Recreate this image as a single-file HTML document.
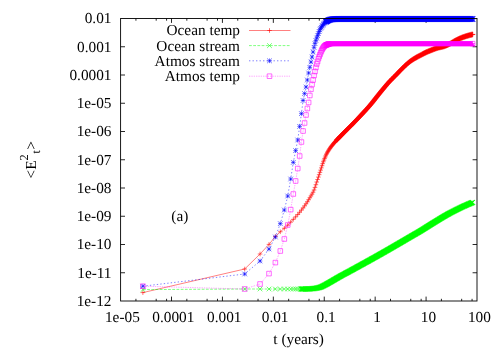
<!DOCTYPE html>
<html><head><meta charset="utf-8"><title>plot</title>
<style>html,body{margin:0;padding:0;background:#fff;width:500px;height:350px;overflow:hidden}svg{will-change:transform;transform:translateZ(0)}text{text-rendering:geometricPrecision}</style></head>
<body>
<svg width="500" height="350" viewBox="0 0 500 350" style="position:absolute;left:0;top:0">
<path d="M120.6 272.75h4.4M477.0 272.75h-4.4M120.6 244.5h4.4M477.0 244.5h-4.4M120.6 216.25h4.4M477.0 216.25h-4.4M120.6 188h4.4M477.0 188h-4.4M120.6 159.75h4.4M477.0 159.75h-4.4M120.6 131.5h4.4M477.0 131.5h-4.4M120.6 103.25h4.4M477.0 103.25h-4.4M120.6 75h4.4M477.0 75h-4.4M120.6 46.75h4.4M477.0 46.75h-4.4M135.93 301.0v-2.2M135.93 18.5v2.2M156.19 301.0v-2.2M156.19 18.5v2.2M166.58 301.0v-2.2M166.58 18.5v2.2M171.51 301.0v-4.4M171.51 18.5v4.4M186.84 301.0v-2.2M186.84 18.5v2.2M207.1 301.0v-2.2M207.1 18.5v2.2M217.49 301.0v-2.2M217.49 18.5v2.2M222.43 301.0v-4.4M222.43 18.5v4.4M237.76 301.0v-2.2M237.76 18.5v2.2M258.02 301.0v-2.2M258.02 18.5v2.2M268.41 301.0v-2.2M268.41 18.5v2.2M273.34 301.0v-4.4M273.34 18.5v4.4M288.67 301.0v-2.2M288.67 18.5v2.2M308.93 301.0v-2.2M308.93 18.5v2.2M319.32 301.0v-2.2M319.32 18.5v2.2M324.26 301.0v-4.4M324.26 18.5v4.4M339.58 301.0v-2.2M339.58 18.5v2.2M359.84 301.0v-2.2M359.84 18.5v2.2M370.24 301.0v-2.2M370.24 18.5v2.2M375.17 301.0v-4.4M375.17 18.5v4.4M390.5 301.0v-2.2M390.5 18.5v2.2M410.76 301.0v-2.2M410.76 18.5v2.2M421.15 301.0v-2.2M421.15 18.5v2.2M426.09 301.0v-4.4M426.09 18.5v4.4M441.41 301.0v-2.2M441.41 18.5v2.2M461.67 301.0v-2.2M461.67 18.5v2.2M472.07 301.0v-2.2M472.07 18.5v2.2" stroke="#000" stroke-width="0.85" fill="none"/>
<g stroke="#ff0000" fill="none" stroke-width="0.58">
<path d="M142.89 292.6 L244.71 269 L260.04 254 L269.01 244.4 L275.37 236.5 L280.3 231.77 L284.33 228.28 L287.74 225.16 L290.69 222.15 L293.3 219.37 L295.63 216.87 L297.74 214.53 L299.66 212.27 L301.43 210.07 L303.07 207.94 L304.59 205.87 L306.02 203.83 L307.36 201.8 L308.63 199.77 L309.82 197.8 L310.96 195.94 L312.03 194.14 L313.06 192.22 L314.05 190.01 L314.99 187.42 L315.89 184.69 L316.76 182.03 L317.59 179.53 L318.4 177.08 L319.17 174.68 L319.92 172.36 L320.65 170.13 L321.35 167.89 L322.03 165.71 L322.69 163.66 L323.33 161.77 L323.95 160.11 L324.56 158.58 L325.15 157.14 L325.72 155.81 L326.28 154.58 L326.83 153.45 L327.36 152.43 L327.88 151.51 L328.39 150.66 L328.89 149.87 L329.37 149.12 L329.85 148.43 L330.31 147.77 L330.77 147.14 L331.22 146.55 L331.65 145.98 L332.08 145.43 L332.5 144.9 L332.92 144.38 L333.32 143.88 L333.72 143.41 L334.11 142.95 L334.5 142.52 L334.88 142.1 L335.25 141.69 L335.61 141.29 L335.97 140.91 L336.33 140.53 L336.67 140.16 L337.02 139.8 L337.35 139.43 L337.69 139.08 L338.01 138.73 L338.34 138.39 L338.66 138.06 L338.97 137.73 L339.28 137.41 L339.58 137.09 L339.88 136.78 L340.47 136.18 L341.05 135.59 L341.61 135.02 L342.15 134.47 L342.69 133.93 L343.21 133.41 L343.72 132.9 L344.21 132.4 L344.7 131.91 L345.17 131.43 L345.64 130.96 L346.1 130.5 L346.54 130.05 L346.98 129.61 L347.41 129.18 L347.83 128.77 L348.24 128.36 L348.65 127.95 L349.05 127.56 L349.44 127.17 L349.82 126.79 L350.2 126.42 L350.57 126.05 L350.94 125.69 L351.3 125.33 L351.65 124.98 L352 124.63 L352.34 124.28 L352.68 123.94 L353.01 123.61 L353.34 123.28 L353.66 122.95 L353.98 122.63 L354.3 122.3 L354.61 121.99 L354.91 121.67 L355.21 121.36 L355.66 120.9 L356.09 120.44 L356.52 120 L356.94 119.56 L357.35 119.13 L357.75 118.7 L358.15 118.28 L358.53 117.87 L358.92 117.46 L359.29 117.06 L359.66 116.66 L360.03 116.27 L360.38 115.89 L360.74 115.51 L361.08 115.14 L361.42 114.77 L361.76 114.41 L362.09 114.06 L362.42 113.71 L362.74 113.37 L363.05 113.03 L363.37 112.69 L363.67 112.36 L363.98 112.03 L364.38 111.6 L364.77 111.17 L365.15 110.76 L365.53 110.34 L365.9 109.94 L366.27 109.53 L366.63 109.14 L366.98 108.74 L367.33 108.35 L367.67 107.97 L368.01 107.59 L368.34 107.21 L368.67 106.84 L368.99 106.47 L369.31 106.1 L369.62 105.74 L369.93 105.38 L370.24 105.02 L370.54 104.66 L370.91 104.22 L371.27 103.78 L371.63 103.34 L371.98 102.91 L372.33 102.48 L372.67 102.05 L373.01 101.63 L373.34 101.22 L373.67 100.8 L373.99 100.39 L374.31 99.99 L374.62 99.59 L374.93 99.2 L375.23 98.81 L375.53 98.42 L375.89 97.97 L376.24 97.52 L376.58 97.08 L376.92 96.65 L377.25 96.23 L377.58 95.81 L377.9 95.4 L378.22 95 L378.54 94.61 L378.85 94.22 L379.15 93.84 L379.45 93.47 L379.8 93.04 L380.14 92.63 L380.48 92.22 L380.81 91.82 L381.14 91.42 L381.46 91.03 L381.77 90.64 L382.09 90.26 L382.39 89.88 L382.7 89.51 L383.04 89.09 L383.38 88.68 L383.71 88.28 L384.04 87.88 L384.36 87.5 L384.68 87.11 L384.99 86.74 L385.3 86.37 L385.6 86 L385.9 85.65 L386.24 85.26 L386.56 84.87 L386.89 84.49 L387.21 84.12 L387.52 83.76 L387.83 83.41 L388.13 83.06 L388.44 82.72 L388.77 82.35 L389.09 81.99 L389.41 81.64 L389.73 81.29 L390.04 80.96 L390.35 80.63 L390.65 80.32 L390.98 79.98 L391.3 79.65 L391.62 79.33 L391.93 79.02 L392.24 78.72 L392.55 78.42 L392.85 78.12 L393.18 77.81 L393.5 77.5 L393.81 77.19 L394.12 76.88 L394.43 76.58 L394.73 76.27 L395.05 75.95 L395.37 75.62 L395.69 75.3 L395.99 74.98 L396.3 74.66 L396.6 74.34 L396.92 74.01 L397.23 73.68 L397.55 73.35 L397.85 73.03 L398.15 72.71 L398.47 72.38 L398.79 72.05 L399.1 71.73 L399.4 71.41 L399.7 71.1 L400.02 70.78 L400.33 70.46 L400.64 70.14 L400.95 69.83 L401.25 69.52 L401.56 69.2 L401.87 68.88 L402.18 68.57 L402.48 68.26 L402.79 67.94 L403.1 67.63 L403.41 67.33 L403.71 67.03 L404.03 66.72 L404.34 66.42 L404.64 66.13 L404.94 65.85 L405.26 65.56 L405.57 65.28 L405.87 65 L406.17 64.73 L406.48 64.44 L406.79 64.17 L407.09 63.9 L407.4 63.62 L407.71 63.36 L408.01 63.09 L408.33 62.83 L408.64 62.57 L408.94 62.32 L409.24 62.08 L409.55 61.84 L409.86 61.61 L410.16 61.38 L410.47 61.16 L410.77 60.94 L411.07 60.72 L411.38 60.51 L411.68 60.3 L411.98 60.1 L412.29 59.89 L412.59 59.69 L412.9 59.49 L413.21 59.3 L413.51 59.11 L413.82 58.91 L414.12 58.73 L414.43 58.54 L414.74 58.36 L415.04 58.18 L415.35 58 L415.65 57.82 L415.96 57.65 L416.26 57.48 L416.56 57.31 L416.87 57.15 L417.17 56.98 L417.48 56.82 L417.78 56.66 L418.09 56.5 L418.39 56.34 L418.7 56.18 L419 56.03 L419.3 55.87 L419.61 55.71 L419.91 55.55 L420.22 55.39 L420.52 55.22 L420.82 55.06 L421.13 54.9 L421.43 54.74 L421.73 54.57 L422.03 54.41 L422.34 54.25 L422.64 54.09 L422.95 53.93 L423.25 53.77 L423.55 53.61 L423.86 53.45 L424.16 53.3 L424.46 53.14 L424.77 52.99 L425.07 52.84 L425.37 52.7 L425.68 52.55 L425.98 52.41 L426.28 52.27 L426.58 52.13 L426.88 52 L427.18 51.87 L427.49 51.73 L427.79 51.6 L428.09 51.48 L428.4 51.35 L428.7 51.22 L429 51.09 L429.3 50.97 L429.61 50.85 L429.91 50.73 L430.21 50.6 L430.52 50.48 L430.82 50.36 L431.12 50.25 L431.42 50.13 L431.72 50.01 L432.03 49.89 L432.33 49.77 L432.63 49.65 L432.94 49.53 L433.24 49.41 L433.54 49.29 L433.84 49.17 L434.14 49.05 L434.44 48.94 L434.74 48.82 L435.04 48.7 L435.34 48.59 L435.64 48.48 L435.95 48.37 L436.25 48.26 L436.55 48.16 L436.85 48.06 L437.15 47.96 L437.46 47.86 L437.76 47.77 L438.06 47.68 L438.36 47.6 L438.66 47.52 L438.96 47.45 L439.27 47.38 L439.57 47.31 L439.87 47.25 L440.17 47.18 L440.47 47.12 L440.77 47.06 L441.07 47 L441.38 46.94 L441.68 46.87 L441.98 46.81 L442.28 46.74 L442.58 46.68 L442.88 46.6 L443.18 46.53 L443.49 46.45 L443.79 46.36 L444.09 46.27 L444.39 46.18 L444.69 46.07 L445 45.97 L445.3 45.85 L445.6 45.74 L445.9 45.62 L446.2 45.49 L446.5 45.36 L446.8 45.23 L447.1 45.09 L447.4 44.96 L447.7 44.82 L448.01 44.67 L448.31 44.53 L448.61 44.38 L448.91 44.24 L449.21 44.09 L449.51 43.94 L449.81 43.79 L450.11 43.64 L450.41 43.49 L450.71 43.33 L451.01 43.17 L451.31 43 L451.61 42.83 L451.92 42.65 L452.22 42.48 L452.52 42.3 L452.82 42.12 L453.12 41.94 L453.42 41.75 L453.72 41.57 L454.02 41.4 L454.32 41.22 L454.62 41.05 L454.93 40.87 L455.23 40.71 L455.53 40.54 L455.83 40.39 L456.13 40.24 L456.43 40.09 L456.73 39.94 L457.03 39.79 L457.33 39.64 L457.63 39.5 L457.93 39.36 L458.23 39.22 L458.53 39.07 L458.83 38.94 L459.14 38.8 L459.44 38.66 L459.74 38.53 L460.04 38.4 L460.34 38.27 L460.64 38.15 L460.94 38.02 L461.24 37.9 L461.54 37.78 L461.84 37.66 L462.14 37.55 L462.44 37.43 L462.74 37.32 L463.04 37.21 L463.34 37.1 L463.64 36.99 L463.95 36.89 L464.25 36.78 L464.55 36.68 L464.85 36.58 L465.15 36.48 L465.45 36.38 L465.75 36.28 L466.05 36.19 L466.35 36.09 L466.65 36 L466.95 35.91 L467.25 35.82 L467.55 35.73 L467.85 35.64 L468.15 35.56 L468.45 35.47 L468.75 35.39 L469.05 35.31 L469.35 35.23 L469.65 35.15 L469.95 35.07 L470.25 34.99 L470.55 34.92 L470.86 34.84 L471.16 34.77 L471.46 34.7 L471.76 34.63 L472.06 34.56 L472.36 34.5 L472.66 34.43 L472.66 34.43M249 30.5H290.5" stroke-width="0.5"/>
<path d="M140.59 292.6h4.6M142.89 290.3v4.6M242.41 269h4.6M244.71 266.7v4.6M257.74 254h4.6M260.04 251.7v4.6M266.71 244.4h4.6M269.01 242.1v4.6M273.07 236.5h4.6M275.37 234.2v4.6M278 231.77h4.6M280.3 229.47v4.6M282.03 228.28h4.6M284.33 225.98v4.6M285.44 225.16h4.6M287.74 222.86v4.6M288.39 222.15h4.6M290.69 219.85v4.6M291 219.37h4.6M293.3 217.07v4.6M293.33 216.87h4.6M295.63 214.57v4.6M295.44 214.53h4.6M297.74 212.23v4.6M297.36 212.27h4.6M299.66 209.97v4.6M299.13 210.07h4.6M301.43 207.77v4.6M300.77 207.94h4.6M303.07 205.64v4.6M302.29 205.87h4.6M304.59 203.57v4.6M303.72 203.83h4.6M306.02 201.53v4.6M305.06 201.8h4.6M307.36 199.5v4.6M306.33 199.77h4.6M308.63 197.47v4.6M307.52 197.8h4.6M309.82 195.5v4.6M308.66 195.94h4.6M310.96 193.64v4.6M309.73 194.14h4.6M312.03 191.84v4.6M310.76 192.22h4.6M313.06 189.92v4.6M311.75 190.01h4.6M314.05 187.71v4.6M312.69 187.42h4.6M314.99 185.12v4.6M313.59 184.69h4.6M315.89 182.39v4.6M314.46 182.03h4.6M316.76 179.73v4.6M315.29 179.53h4.6M317.59 177.23v4.6M316.1 177.08h4.6M318.4 174.78v4.6M316.87 174.68h4.6M319.17 172.38v4.6M317.62 172.36h4.6M319.92 170.06v4.6M318.35 170.13h4.6M320.65 167.83v4.6M319.05 167.89h4.6M321.35 165.59v4.6M319.73 165.71h4.6M322.03 163.41v4.6M320.39 163.66h4.6M322.69 161.36v4.6M321.03 161.77h4.6M323.33 159.47v4.6M321.65 160.11h4.6M323.95 157.81v4.6M322.26 158.58h4.6M324.56 156.28v4.6M322.85 157.14h4.6M325.15 154.84v4.6M323.42 155.81h4.6M325.72 153.51v4.6M323.98 154.58h4.6M326.28 152.28v4.6M324.53 153.45h4.6M326.83 151.15v4.6M325.06 152.43h4.6M327.36 150.13v4.6M325.58 151.51h4.6M327.88 149.21v4.6M326.09 150.66h4.6M328.39 148.36v4.6M326.59 149.87h4.6M328.89 147.57v4.6M327.07 149.12h4.6M329.37 146.82v4.6M327.55 148.43h4.6M329.85 146.13v4.6M328.01 147.77h4.6M330.31 145.47v4.6M328.47 147.14h4.6M330.77 144.84v4.6M328.92 146.55h4.6M331.22 144.25v4.6M329.35 145.98h4.6M331.65 143.68v4.6M329.78 145.43h4.6M332.08 143.13v4.6M330.2 144.9h4.6M332.5 142.6v4.6M330.62 144.38h4.6M332.92 142.08v4.6M331.02 143.88h4.6M333.32 141.58v4.6M331.42 143.41h4.6M333.72 141.11v4.6M331.81 142.95h4.6M334.11 140.65v4.6M332.2 142.52h4.6M334.5 140.22v4.6M332.58 142.1h4.6M334.88 139.8v4.6M332.95 141.69h4.6M335.25 139.39v4.6M333.31 141.29h4.6M335.61 138.99v4.6M333.67 140.91h4.6M335.97 138.61v4.6M334.03 140.53h4.6M336.33 138.23v4.6M334.37 140.16h4.6M336.67 137.86v4.6M334.72 139.8h4.6M337.02 137.5v4.6M335.05 139.43h4.6M337.35 137.13v4.6M335.39 139.08h4.6M337.69 136.78v4.6M335.71 138.73h4.6M338.01 136.43v4.6M336.04 138.39h4.6M338.34 136.09v4.6M336.36 138.06h4.6M338.66 135.76v4.6M336.67 137.73h4.6M338.97 135.43v4.6M336.98 137.41h4.6M339.28 135.11v4.6M337.28 137.09h4.6M339.58 134.79v4.6M337.58 136.78h4.6M339.88 134.48v4.6M470.36 34.43h4.6M472.66 32.13v4.6M267.2 30.5h4.6M269.5 28.2v4.6"/>
<path d="M339.55 139.81 L340.05 139.28 L340.55 138.75 L341.05 138.22 L341.55 137.7 L342.05 137.18 L342.55 136.66 L343.05 136.15 L343.55 135.64 L344.05 135.13 L344.55 134.63 L345.05 134.12 L345.55 133.62 L346.05 133.12 L346.55 132.61 L347.05 132.11 L347.55 131.61 L348.05 131.1 L348.55 130.6 L349.05 130.09 L349.55 129.59 L350.05 129.1 L350.55 128.6 L351.05 128.1 L351.55 127.61 L352.05 127.11 L352.55 126.62 L353.05 126.12 L353.55 125.63 L354.05 125.13 L354.55 124.63 L355.05 124.13 L355.55 123.62 L356.05 123.12 L356.55 122.61 L357.05 122.09 L357.55 121.58 L358.05 121.06 L358.55 120.54 L359.05 120.02 L359.55 119.49 L360.05 118.96 L360.55 118.43 L361.05 117.9 L361.55 117.37 L362.05 116.84 L362.55 116.3 L363.05 115.76 L363.55 115.23 L364.05 114.69 L364.55 114.16 L365.05 113.62 L365.55 113.08 L366.05 112.54 L366.55 112.01 L367.05 111.46 L367.55 110.92 L368.05 110.37 L368.55 109.83 L369.05 109.27 L369.55 108.72 L370.05 108.16 L370.55 107.6 L371.05 107.03 L371.55 106.46 L372.05 105.88 L372.55 105.3 L373.05 104.71 L373.55 104.11 L374.05 103.5 L374.55 102.89 L375.05 102.27 L375.55 101.64 L376.05 101.01 L376.55 100.38 L377.05 99.74 L377.55 99.1 L378.05 98.46 L378.55 97.82 L379.05 97.19 L379.55 96.55 L380.05 95.91 L380.55 95.28 L381.05 94.65 L381.55 94.03 L382.05 93.41 L382.55 92.8 L383.05 92.19 L383.55 91.58 L384.05 90.97 L384.55 90.36 L385.05 89.75 L385.55 89.14 L386.05 88.53 L386.55 87.93 L387.05 87.32 L387.55 86.72 L388.05 86.13 L388.55 85.53 L389.05 84.94 L389.55 84.36 L390.05 83.78 L390.55 83.21 L391.05 82.65 L391.55 82.09 L392.05 81.54 L392.55 81 L393.05 80.47 L393.55 79.96 L394.05 79.45 L394.55 78.96 L395.05 78.47 L395.55 77.98 L396.05 77.49 L396.55 77 L397.05 76.5 L397.55 76 L398.05 75.49 L398.55 74.97 L399.05 74.45 L399.55 73.92 L400.05 73.4 L400.55 72.88 L401.05 72.35 L401.55 71.83 L402.05 71.31 L402.55 70.8 L403.05 70.29 L403.55 69.78 L404.05 69.26 L404.55 68.75 L405.05 68.24 L405.55 67.74 L406.05 67.24 L406.55 66.75 L407.05 66.27 L407.55 65.8 L408.05 65.34 L408.55 64.88 L409.05 64.43 L409.55 63.98 L410.05 63.54 L410.55 63.11 L411.05 62.69 L411.55 62.28 L412.05 61.88 L412.55 61.5 L413.05 61.13 L413.55 60.77 L414.05 60.43 L414.55 60.09 L415.05 59.75 L415.55 59.43 L416.05 59.11 L416.55 58.8 L417.05 58.5 L417.55 58.2 L418.05 57.91 L418.55 57.62 L419.05 57.35 L419.55 57.08 L420.05 56.81 L420.55 56.55 L421.05 56.28 L421.55 56.02 L422.05 55.76 L422.55 55.5 L423.05 55.23 L423.55 54.97 L424.05 54.7 L424.55 54.43 L425.05 54.16 L425.55 53.9 L426.05 53.64 L426.55 53.38 L427.05 53.12 L427.55 52.88 L428.05 52.63 L428.55 52.4 L429.05 52.17 L429.55 51.95 L430.05 51.73 L430.55 51.52 L431.05 51.3 L431.55 51.1 L432.05 50.89 L432.55 50.69 L433.05 50.49 L433.55 50.29 L434.05 50.1 L434.55 49.9 L435.05 49.7 L435.55 49.51 L436.05 49.31 L436.55 49.11 L437.05 48.91 L437.55 48.72 L438.05 48.53 L438.55 48.35 L439.05 48.17 L439.55 48.01 L440.05 47.85 L440.55 47.7 L441.05 47.56 L441.55 47.44 L442.05 47.33 L442.55 47.22 L443.05 47.12 L443.55 47.01 L444.05 46.91 L444.55 46.81 L445.05 46.69 L445.55 46.57 L446.05 46.44 L446.55 46.3 L447.05 46.14 L447.55 45.96 L448.05 45.78 L448.55 45.57 L449.05 45.36 L449.55 45.14 L450.05 44.91 L450.55 44.68 L451.05 44.44 L451.55 44.19 L452.05 43.95 L452.55 43.7 L453.05 43.45 L453.55 43.18 L454.05 42.9 L454.55 42.6 L455.05 42.31 L455.55 42.01 L456.05 41.71 L456.55 41.41 L457.05 41.12 L457.55 40.83 L458.05 40.56 L458.55 40.3 L459.05 40.05 L459.55 39.8 L460.05 39.56 L460.55 39.32 L461.05 39.09 L461.55 38.86 L462.05 38.64 L462.55 38.42 L463.05 38.2 L463.55 38 L464.05 37.79 L464.55 37.6 L465.05 37.41 L465.55 37.23 L466.05 37.04 L466.55 36.87 L467.05 36.69 L467.55 36.53 L468.05 36.36 L468.55 36.2 L469.05 36.04 L469.55 35.89 L470.05 35.74 L470.55 35.6 L471.05 35.46 L471.55 35.32 L472.05 35.19 L472.55 35.06 L473.05 34.93 L473.55 34.81 L474.05 34.69 L474.55 34.58 L475.05 34.46 L475.21 34.43 L470.11 34.43 L469.95 34.46 L469.45 34.58 L468.95 34.69 L468.45 34.81 L467.95 34.93 L467.45 35.06 L466.95 35.19 L466.45 35.32 L465.95 35.46 L465.45 35.6 L464.95 35.74 L464.45 35.89 L463.95 36.04 L463.45 36.2 L462.95 36.36 L462.45 36.53 L461.95 36.69 L461.45 36.87 L460.95 37.04 L460.45 37.23 L459.95 37.41 L459.45 37.6 L458.95 37.79 L458.45 38 L457.95 38.2 L457.45 38.42 L456.95 38.64 L456.45 38.86 L455.95 39.09 L455.45 39.32 L454.95 39.56 L454.45 39.8 L453.95 40.05 L453.45 40.3 L452.95 40.56 L452.45 40.83 L451.95 41.12 L451.45 41.41 L450.95 41.71 L450.45 42.01 L449.95 42.31 L449.45 42.6 L448.95 42.9 L448.45 43.18 L447.95 43.45 L447.45 43.7 L446.95 43.95 L446.45 44.19 L445.95 44.44 L445.45 44.68 L444.95 44.91 L444.45 45.14 L443.95 45.36 L443.45 45.57 L442.95 45.78 L442.45 45.96 L441.95 46.14 L441.45 46.3 L440.95 46.44 L440.45 46.57 L439.95 46.69 L439.45 46.81 L438.95 46.91 L438.45 47.01 L437.95 47.12 L437.45 47.22 L436.95 47.33 L436.45 47.44 L435.95 47.56 L435.45 47.7 L434.95 47.85 L434.45 48.01 L433.95 48.17 L433.45 48.35 L432.95 48.53 L432.45 48.72 L431.95 48.91 L431.45 49.11 L430.95 49.31 L430.45 49.51 L429.95 49.7 L429.45 49.9 L428.95 50.1 L428.45 50.29 L427.95 50.49 L427.45 50.69 L426.95 50.89 L426.45 51.1 L425.95 51.3 L425.45 51.52 L424.95 51.73 L424.45 51.95 L423.95 52.17 L423.45 52.4 L422.95 52.63 L422.45 52.88 L421.95 53.12 L421.45 53.38 L420.95 53.64 L420.45 53.9 L419.95 54.16 L419.45 54.43 L418.95 54.7 L418.45 54.97 L417.95 55.23 L417.45 55.5 L416.95 55.76 L416.45 56.02 L415.95 56.28 L415.45 56.55 L414.95 56.81 L414.45 57.08 L413.95 57.35 L413.45 57.62 L412.95 57.91 L412.45 58.2 L411.95 58.5 L411.45 58.8 L410.95 59.11 L410.45 59.43 L409.95 59.75 L409.45 60.09 L408.95 60.43 L408.45 60.77 L407.95 61.13 L407.45 61.5 L406.95 61.88 L406.45 62.28 L405.95 62.69 L405.45 63.11 L404.95 63.54 L404.45 63.98 L403.95 64.43 L403.45 64.88 L402.95 65.34 L402.45 65.8 L401.95 66.27 L401.45 66.75 L400.95 67.24 L400.45 67.74 L399.95 68.24 L399.45 68.75 L398.95 69.26 L398.45 69.78 L397.95 70.29 L397.45 70.8 L396.95 71.31 L396.45 71.83 L395.95 72.35 L395.45 72.88 L394.95 73.4 L394.45 73.92 L393.95 74.45 L393.45 74.97 L392.95 75.49 L392.45 76 L391.95 76.5 L391.45 77 L390.95 77.49 L390.45 77.98 L389.95 78.47 L389.45 78.96 L388.95 79.45 L388.45 79.96 L387.95 80.47 L387.45 81 L386.95 81.54 L386.45 82.09 L385.95 82.65 L385.45 83.21 L384.95 83.78 L384.45 84.36 L383.95 84.94 L383.45 85.53 L382.95 86.13 L382.45 86.72 L381.95 87.32 L381.45 87.93 L380.95 88.53 L380.45 89.14 L379.95 89.75 L379.45 90.36 L378.95 90.97 L378.45 91.58 L377.95 92.19 L377.45 92.8 L376.95 93.41 L376.45 94.03 L375.95 94.65 L375.45 95.28 L374.95 95.91 L374.45 96.55 L373.95 97.19 L373.45 97.82 L372.95 98.46 L372.45 99.1 L371.95 99.74 L371.45 100.38 L370.95 101.01 L370.45 101.64 L369.95 102.27 L369.45 102.89 L368.95 103.5 L368.45 104.11 L367.95 104.71 L367.45 105.3 L366.95 105.88 L366.45 106.46 L365.95 107.03 L365.45 107.6 L364.95 108.16 L364.45 108.72 L363.95 109.27 L363.45 109.83 L362.95 110.37 L362.45 110.92 L361.95 111.46 L361.45 112.01 L360.95 112.54 L360.45 113.08 L359.95 113.62 L359.45 114.16 L358.95 114.69 L358.45 115.23 L357.95 115.76 L357.45 116.3 L356.95 116.84 L356.45 117.37 L355.95 117.9 L355.45 118.43 L354.95 118.96 L354.45 119.49 L353.95 120.02 L353.45 120.54 L352.95 121.06 L352.45 121.58 L351.95 122.09 L351.45 122.61 L350.95 123.12 L350.45 123.62 L349.95 124.13 L349.45 124.63 L348.95 125.13 L348.45 125.63 L347.95 126.12 L347.45 126.62 L346.95 127.11 L346.45 127.61 L345.95 128.1 L345.45 128.6 L344.95 129.1 L344.45 129.59 L343.95 130.09 L343.45 130.6 L342.95 131.1 L342.45 131.61 L341.95 132.11 L341.45 132.61 L340.95 133.12 L340.45 133.62 L339.95 134.12 L339.45 134.63 L338.95 135.13 L338.45 135.64 L337.95 136.15 L337.45 136.66 L336.95 137.18 L336.45 137.7 L335.95 138.22 L335.45 138.75 L334.95 139.28 L334.45 139.81Z" fill="#ff0000" stroke-linejoin="round"/>
<path d="M337 142.36 L337.5 141.83 L338 141.3 L338.5 140.77 L339 140.25 L339.5 139.73 L340 139.21 L340.5 138.7 L341 138.19 L341.5 137.68 L342 137.18 L342.5 136.67 L343 136.17 L343.5 135.67 L344 135.16 L344.5 134.66 L345 134.16 L345.5 133.65 L346 133.15 L346.5 132.64 L347 132.14 L347.5 131.65 L348 131.15 L348.5 130.65 L349 130.16 L349.5 129.66 L350 129.17 L350.5 128.67 L351 128.18 L351.5 127.68 L352 127.18 L352.5 126.68 L353 126.17 L353.5 125.67 L354 125.16 L354.5 124.64 L355 124.13 L355.5 123.61 L356 123.09 L356.5 122.57 L357 122.04 L357.5 121.51 L358 120.98 L358.5 120.45 L359 119.92 L359.5 119.39 L360 118.85 L360.5 118.31 L361 117.78 L361.5 117.24 L362 116.71 L362.5 116.17 L363 115.63 L363.5 115.09 L364 114.56 L364.5 114.01 L365 113.47 L365.5 112.92 L366 112.38 L366.5 111.82 L367 111.27 L367.5 110.71 L368 110.15 L368.5 109.58 L369 109.01 L369.5 108.43 L370 107.85 L370.5 107.26 L371 106.66 L371.5 106.05 L372 105.44 L372.5 104.82 L373 104.19 L373.5 103.56 L374 102.93 L374.5 102.29 L375 101.65 L375.5 101.01 L376 100.37 L376.5 99.74 L377 99.1 L377.5 98.46 L378 97.83 L378.5 97.2 L379 96.58 L379.5 95.96 L380 95.35 L380.5 94.74 L381 94.13 L381.5 93.52 L382 92.91 L382.5 92.3 L383 91.69 L383.5 91.08 L384 90.48 L384.5 89.87 L385 89.27 L385.5 88.68 L386 88.08 L386.5 87.49 L387 86.91 L387.5 86.33 L388 85.76 L388.5 85.2 L389 84.64 L389.5 84.09 L390 83.55 L390.5 83.02 L391 82.51 L391.5 82 L392 81.51 L392.5 81.02 L393 80.53 L393.5 80.04 L394 79.55 L394.5 79.05 L395 78.55 L395.5 78.04 L396 77.52 L396.5 77 L397 76.47 L397.5 75.95 L398 75.43 L398.5 74.9 L399 74.38 L399.5 73.86 L400 73.35 L400.5 72.84 L401 72.33 L401.5 71.81 L402 71.3 L402.5 70.79 L403 70.29 L403.5 69.79 L404 69.3 L404.5 68.82 L405 68.35 L405.5 67.89 L406 67.43 L406.5 66.98 L407 66.53 L407.5 66.09 L408 65.66 L408.5 65.24 L409 64.83 L409.5 64.43 L410 64.05 L410.5 63.68 L411 63.32 L411.5 62.98 L412 62.64 L412.5 62.3 L413 61.98 L413.5 61.66 L414 61.35 L414.5 61.05 L415 60.75 L415.5 60.46 L416 60.17 L416.5 59.9 L417 59.63 L417.5 59.36 L418 59.1 L418.5 58.83 L419 58.57 L419.5 58.31 L420 58.05 L420.5 57.78 L421 57.52 L421.5 57.25 L422 56.98 L422.5 56.71 L423 56.45 L423.5 56.19 L424 55.93 L424.5 55.67 L425 55.43 L425.5 55.18 L426 54.95 L426.5 54.72 L427 54.5 L427.5 54.28 L428 54.07 L428.5 53.85 L429 53.65 L429.5 53.44 L430 53.24 L430.5 53.04 L431 52.84 L431.5 52.65 L432 52.45 L432.5 52.25 L433 52.06 L433.5 51.86 L434 51.66 L434.5 51.46 L435 51.27 L435.5 51.08 L436 50.9 L436.5 50.72 L437 50.56 L437.5 50.4 L438 50.25 L438.5 50.11 L439 49.99 L439.5 49.88 L440 49.77 L440.5 49.67 L441 49.56 L441.5 49.46 L442 49.36 L442.5 49.24 L443 49.12 L443.5 48.99 L444 48.85 L444.5 48.69 L445 48.51 L445.5 48.33 L446 48.12 L446.5 47.91 L447 47.69 L447.5 47.46 L448 47.23 L448.5 46.99 L449 46.74 L449.5 46.5 L450 46.25 L450.5 46 L451 45.73 L451.5 45.45 L452 45.15 L452.5 44.86 L453 44.56 L453.5 44.26 L454 43.96 L454.5 43.67 L455 43.38 L455.5 43.11 L456 42.85 L456.5 42.6 L457 42.35 L457.5 42.11 L458 41.87 L458.5 41.64 L459 41.41 L459.5 41.19 L460 40.97 L460.5 40.75 L461 40.55 L461.5 40.34 L462 40.15 L462.5 39.96 L463 39.78 L463.5 39.59 L464 39.42 L464.5 39.24 L465 39.08 L465.5 38.91 L466 38.75 L466.5 38.59 L467 38.44 L467.5 38.29 L468 38.15 L468.5 38.01 L469 37.87 L469.5 37.74 L470 37.61 L470.5 37.48 L471 37.36 L471.5 37.24 L472 37.13 L472.5 37.01 L472.66 36.98 L472.66 31.88 L472.5 31.91 L472 32.03 L471.5 32.14 L471 32.26 L470.5 32.38 L470 32.51 L469.5 32.64 L469 32.77 L468.5 32.91 L468 33.05 L467.5 33.19 L467 33.34 L466.5 33.49 L466 33.65 L465.5 33.81 L465 33.98 L464.5 34.14 L464 34.32 L463.5 34.49 L463 34.68 L462.5 34.86 L462 35.05 L461.5 35.24 L461 35.45 L460.5 35.65 L460 35.87 L459.5 36.09 L459 36.31 L458.5 36.54 L458 36.77 L457.5 37.01 L457 37.25 L456.5 37.5 L456 37.75 L455.5 38.01 L455 38.28 L454.5 38.57 L454 38.86 L453.5 39.16 L453 39.46 L452.5 39.76 L452 40.05 L451.5 40.35 L451 40.63 L450.5 40.9 L450 41.15 L449.5 41.4 L449 41.64 L448.5 41.89 L448 42.13 L447.5 42.36 L447 42.59 L446.5 42.81 L446 43.02 L445.5 43.23 L445 43.41 L444.5 43.59 L444 43.75 L443.5 43.89 L443 44.02 L442.5 44.14 L442 44.26 L441.5 44.36 L441 44.46 L440.5 44.57 L440 44.67 L439.5 44.78 L439 44.89 L438.5 45.01 L438 45.15 L437.5 45.3 L437 45.46 L436.5 45.62 L436 45.8 L435.5 45.98 L435 46.17 L434.5 46.36 L434 46.56 L433.5 46.76 L433 46.96 L432.5 47.15 L432 47.35 L431.5 47.55 L431 47.74 L430.5 47.94 L430 48.14 L429.5 48.34 L429 48.55 L428.5 48.75 L428 48.97 L427.5 49.18 L427 49.4 L426.5 49.62 L426 49.85 L425.5 50.08 L425 50.33 L424.5 50.57 L424 50.83 L423.5 51.09 L423 51.35 L422.5 51.61 L422 51.88 L421.5 52.15 L421 52.42 L420.5 52.68 L420 52.95 L419.5 53.21 L419 53.47 L418.5 53.73 L418 54 L417.5 54.26 L417 54.53 L416.5 54.8 L416 55.07 L415.5 55.36 L415 55.65 L414.5 55.95 L414 56.25 L413.5 56.56 L413 56.88 L412.5 57.2 L412 57.54 L411.5 57.88 L411 58.22 L410.5 58.58 L410 58.95 L409.5 59.33 L409 59.73 L408.5 60.14 L408 60.56 L407.5 60.99 L407 61.43 L406.5 61.88 L406 62.33 L405.5 62.79 L405 63.25 L404.5 63.72 L404 64.2 L403.5 64.69 L403 65.19 L402.5 65.69 L402 66.2 L401.5 66.71 L401 67.23 L400.5 67.74 L400 68.25 L399.5 68.76 L399 69.28 L398.5 69.8 L398 70.33 L397.5 70.85 L397 71.37 L396.5 71.9 L396 72.42 L395.5 72.94 L395 73.45 L394.5 73.95 L394 74.45 L393.5 74.94 L393 75.43 L392.5 75.92 L392 76.41 L391.5 76.9 L391 77.41 L390.5 77.92 L390 78.45 L389.5 78.99 L389 79.54 L388.5 80.1 L388 80.66 L387.5 81.23 L387 81.81 L386.5 82.39 L386 82.98 L385.5 83.58 L385 84.17 L384.5 84.77 L384 85.38 L383.5 85.98 L383 86.59 L382.5 87.2 L382 87.81 L381.5 88.42 L381 89.03 L380.5 89.64 L380 90.25 L379.5 90.86 L379 91.48 L378.5 92.1 L378 92.73 L377.5 93.36 L377 94 L376.5 94.64 L376 95.27 L375.5 95.91 L375 96.55 L374.5 97.19 L374 97.83 L373.5 98.46 L373 99.09 L372.5 99.72 L372 100.34 L371.5 100.95 L371 101.56 L370.5 102.16 L370 102.75 L369.5 103.33 L369 103.91 L368.5 104.48 L368 105.05 L367.5 105.61 L367 106.17 L366.5 106.72 L366 107.28 L365.5 107.82 L365 108.37 L364.5 108.91 L364 109.46 L363.5 109.99 L363 110.53 L362.5 111.07 L362 111.61 L361.5 112.14 L361 112.68 L360.5 113.21 L360 113.75 L359.5 114.29 L359 114.82 L358.5 115.35 L358 115.88 L357.5 116.41 L357 116.94 L356.5 117.47 L356 117.99 L355.5 118.51 L355 119.03 L354.5 119.54 L354 120.06 L353.5 120.57 L353 121.07 L352.5 121.58 L352 122.08 L351.5 122.58 L351 123.08 L350.5 123.57 L350 124.07 L349.5 124.56 L349 125.06 L348.5 125.55 L348 126.05 L347.5 126.55 L347 127.04 L346.5 127.54 L346 128.05 L345.5 128.55 L345 129.06 L344.5 129.56 L344 130.06 L343.5 130.57 L343 131.07 L342.5 131.57 L342 132.08 L341.5 132.58 L341 133.09 L340.5 133.6 L340 134.11 L339.5 134.63 L339 135.15 L338.5 135.67 L338 136.2 L337.5 136.73 L337 137.26Z" fill="#ff0000" stroke-linejoin="round"/>
</g>

<g stroke="#00ff00" fill="none" stroke-width="0.58">
<path d="M142.89 289.6 L244.71 289 L260.04 289 L269.01 289 L275.37 289 L280.3 289 L284.33 289 L287.74 289 L290.69 289 L293.3 289 L295.63 289 L297.74 289 L299.66 289 L301.43 289 L303.07 289 L304.59 289 L306.02 288.99 L307.36 288.96 L308.63 288.9 L309.82 288.84 L310.96 288.77 L312.03 288.7 L313.06 288.61 L314.05 288.49 L314.99 288.36 L315.89 288.22 L316.76 288.07 L317.59 287.91 L318.4 287.73 L319.17 287.53 L319.92 287.32 L320.65 287.09 L321.35 286.81 L322.03 286.5 L322.69 286.19 L323.33 285.86 L323.95 285.54 L324.56 285.23 L325.15 284.92 L325.72 284.63 L326.28 284.32 L326.83 284.02 L327.36 283.72 L327.88 283.42 L328.39 283.13 L328.89 282.84 L329.37 282.56 L329.85 282.29 L330.31 282.02 L330.77 281.76 L331.22 281.5 L331.65 281.25 L332.08 281 L332.5 280.75 L332.92 280.51 L333.32 280.27 L333.72 280.04 L334.11 279.81 L334.5 279.58 L334.88 279.36 L335.25 279.14 L335.61 278.93 L335.97 278.72 L336.33 278.51 L336.67 278.31 L337.02 278.11 L337.35 277.91 L337.69 277.72 L338.01 277.53 L338.34 277.34 L338.66 277.16 L338.97 276.98 L339.28 276.81 L339.58 276.63 L339.88 276.46 L340.47 276.14 L341.05 275.82 L341.61 275.51 L342.15 275.21 L342.69 274.92 L343.21 274.64 L343.72 274.37 L344.21 274.1 L344.7 273.84 L345.17 273.59 L345.64 273.34 L346.1 273.1 L346.54 272.86 L346.98 272.63 L347.41 272.4 L347.83 272.17 L348.24 271.95 L348.65 271.73 L349.05 271.52 L349.44 271.3 L349.82 271.1 L350.2 270.89 L350.57 270.69 L350.94 270.49 L351.3 270.29 L351.65 270.1 L352 269.91 L352.34 269.72 L352.68 269.54 L353.01 269.35 L353.34 269.17 L353.66 269 L353.98 268.82 L354.3 268.65 L354.61 268.48 L354.91 268.32 L355.21 268.15 L355.66 267.91 L356.09 267.67 L356.52 267.44 L356.94 267.21 L357.35 266.98 L357.75 266.76 L358.15 266.54 L358.53 266.33 L358.92 266.12 L359.29 265.91 L359.66 265.71 L360.03 265.51 L360.38 265.31 L360.74 265.12 L361.08 264.93 L361.42 264.74 L361.76 264.56 L362.09 264.37 L362.42 264.2 L362.74 264.02 L363.05 263.84 L363.37 263.67 L363.67 263.5 L363.98 263.33 L364.38 263.11 L364.77 262.9 L365.15 262.69 L365.53 262.48 L365.9 262.27 L366.27 262.07 L366.63 261.87 L366.98 261.67 L367.33 261.48 L367.67 261.29 L368.01 261.1 L368.34 260.92 L368.67 260.74 L368.99 260.56 L369.31 260.38 L369.62 260.21 L369.93 260.03 L370.24 259.86 L370.54 259.7 L370.91 259.49 L371.27 259.29 L371.63 259.09 L371.98 258.89 L372.33 258.7 L372.67 258.51 L373.01 258.32 L373.34 258.13 L373.67 257.95 L373.99 257.77 L374.31 257.59 L374.62 257.42 L374.93 257.25 L375.23 257.08 L375.53 256.91 L375.89 256.71 L376.24 256.51 L376.58 256.32 L376.92 256.13 L377.25 255.94 L377.58 255.76 L377.9 255.57 L378.22 255.4 L378.54 255.22 L378.85 255.04 L379.15 254.87 L379.45 254.7 L379.8 254.5 L380.14 254.31 L380.48 254.12 L380.81 253.93 L381.14 253.75 L381.46 253.57 L381.77 253.39 L382.09 253.21 L382.39 253.04 L382.7 252.86 L383.04 252.67 L383.38 252.48 L383.71 252.29 L384.04 252.1 L384.36 251.92 L384.68 251.74 L384.99 251.56 L385.3 251.38 L385.6 251.21 L385.9 251.03 L386.24 250.84 L386.56 250.66 L386.89 250.47 L387.21 250.29 L387.52 250.11 L387.83 249.93 L388.13 249.75 L388.44 249.58 L388.77 249.39 L389.09 249.2 L389.41 249.02 L389.73 248.84 L390.04 248.66 L390.35 248.48 L390.65 248.3 L390.98 248.11 L391.3 247.93 L391.62 247.74 L391.93 247.56 L392.24 247.38 L392.55 247.2 L392.85 247.03 L393.18 246.84 L393.5 246.65 L393.81 246.47 L394.12 246.29 L394.43 246.11 L394.73 245.94 L395.05 245.75 L395.37 245.57 L395.69 245.38 L395.99 245.2 L396.3 245.03 L396.6 244.85 L396.92 244.66 L397.23 244.48 L397.55 244.3 L397.85 244.12 L398.15 243.95 L398.47 243.76 L398.79 243.58 L399.1 243.4 L399.4 243.22 L399.7 243.04 L400.02 242.86 L400.33 242.67 L400.64 242.49 L400.95 242.32 L401.25 242.14 L401.56 241.96 L401.87 241.78 L402.18 241.6 L402.48 241.42 L402.79 241.24 L403.1 241.06 L403.41 240.88 L403.71 240.7 L404.03 240.52 L404.34 240.34 L404.64 240.16 L404.94 239.98 L405.26 239.8 L405.57 239.62 L405.87 239.44 L406.17 239.27 L406.48 239.08 L406.79 238.91 L407.09 238.73 L407.4 238.55 L407.71 238.37 L408.01 238.19 L408.33 238.01 L408.64 237.83 L408.94 237.65 L409.24 237.47 L409.55 237.29 L409.86 237.11 L410.16 236.94 L410.47 236.76 L410.77 236.58 L411.07 236.41 L411.38 236.23 L411.68 236.05 L411.98 235.87 L412.29 235.7 L412.59 235.52 L412.9 235.34 L413.21 235.16 L413.51 234.99 L413.82 234.81 L414.12 234.63 L414.43 234.45 L414.74 234.28 L415.04 234.1 L415.35 233.92 L415.65 233.75 L415.96 233.57 L416.26 233.39 L416.56 233.22 L416.87 233.04 L417.17 232.87 L417.48 232.69 L417.78 232.51 L418.09 232.33 L418.39 232.16 L418.7 231.98 L419 231.8 L419.3 231.62 L419.61 231.44 L419.91 231.25 L420.22 231.07 L420.52 230.89 L420.82 230.7 L421.13 230.52 L421.43 230.33 L421.73 230.15 L422.03 229.96 L422.34 229.78 L422.64 229.59 L422.95 229.4 L423.25 229.21 L423.55 229.02 L423.86 228.83 L424.16 228.64 L424.46 228.45 L424.77 228.26 L425.07 228.08 L425.37 227.89 L425.68 227.69 L425.98 227.5 L426.28 227.31 L426.58 227.12 L426.88 226.93 L427.18 226.74 L427.49 226.55 L427.79 226.36 L428.09 226.17 L428.4 225.98 L428.7 225.79 L429 225.59 L429.3 225.4 L429.61 225.21 L429.91 225.02 L430.21 224.83 L430.52 224.64 L430.82 224.45 L431.12 224.26 L431.42 224.08 L431.72 223.89 L432.03 223.7 L432.33 223.51 L432.63 223.32 L432.94 223.13 L433.24 222.95 L433.54 222.76 L433.84 222.58 L434.14 222.4 L434.44 222.21 L434.74 222.03 L435.04 221.85 L435.34 221.66 L435.64 221.48 L435.95 221.3 L436.25 221.11 L436.55 220.93 L436.85 220.74 L437.15 220.56 L437.46 220.37 L437.76 220.19 L438.06 220 L438.36 219.82 L438.66 219.63 L438.96 219.45 L439.27 219.26 L439.57 219.08 L439.87 218.9 L440.17 218.71 L440.47 218.53 L440.77 218.35 L441.07 218.16 L441.38 217.98 L441.68 217.8 L441.98 217.62 L442.28 217.44 L442.58 217.26 L442.88 217.08 L443.18 216.9 L443.49 216.72 L443.79 216.54 L444.09 216.36 L444.39 216.19 L444.69 216.01 L445 215.83 L445.3 215.66 L445.6 215.49 L445.9 215.31 L446.2 215.14 L446.5 214.97 L446.8 214.8 L447.1 214.63 L447.4 214.46 L447.7 214.29 L448.01 214.13 L448.31 213.96 L448.61 213.8 L448.91 213.63 L449.21 213.47 L449.51 213.31 L449.81 213.14 L450.11 212.98 L450.41 212.82 L450.71 212.66 L451.01 212.5 L451.31 212.34 L451.61 212.18 L451.92 212.02 L452.22 211.87 L452.52 211.71 L452.82 211.55 L453.12 211.39 L453.42 211.24 L453.72 211.08 L454.02 210.93 L454.32 210.78 L454.62 210.62 L454.93 210.47 L455.23 210.32 L455.53 210.16 L455.83 210.01 L456.13 209.86 L456.43 209.71 L456.73 209.56 L457.03 209.41 L457.33 209.26 L457.63 209.11 L457.93 208.97 L458.23 208.82 L458.53 208.67 L458.83 208.53 L459.14 208.38 L459.44 208.23 L459.74 208.09 L460.04 207.95 L460.34 207.8 L460.64 207.66 L460.94 207.52 L461.24 207.37 L461.54 207.23 L461.84 207.09 L462.14 206.95 L462.44 206.81 L462.74 206.67 L463.04 206.53 L463.34 206.4 L463.64 206.26 L463.95 206.12 L464.25 205.99 L464.55 205.85 L464.85 205.72 L465.15 205.58 L465.45 205.45 L465.75 205.32 L466.05 205.19 L466.35 205.05 L466.65 204.92 L466.95 204.79 L467.25 204.66 L467.55 204.54 L467.85 204.41 L468.15 204.28 L468.45 204.15 L468.75 204.02 L469.05 203.9 L469.35 203.77 L469.65 203.64 L469.95 203.52 L470.25 203.39 L470.55 203.27 L470.86 203.14 L471.16 203.02 L471.46 202.89 L471.76 202.77 L472.06 202.65 L472.36 202.52 L472.66 202.4 L472.66 202.4M249 45.6H290.5" stroke-dasharray="2.8 1.4" stroke-width="0.5"/>
<path d="M140.59 287.3l4.6 4.6M140.59 291.9l4.6 -4.6M242.41 286.7l4.6 4.6M242.41 291.3l4.6 -4.6M257.74 286.7l4.6 4.6M257.74 291.3l4.6 -4.6M266.71 286.7l4.6 4.6M266.71 291.3l4.6 -4.6M273.07 286.7l4.6 4.6M273.07 291.3l4.6 -4.6M278 286.7l4.6 4.6M278 291.3l4.6 -4.6M282.03 286.7l4.6 4.6M282.03 291.3l4.6 -4.6M285.44 286.7l4.6 4.6M285.44 291.3l4.6 -4.6M288.39 286.7l4.6 4.6M288.39 291.3l4.6 -4.6M291 286.7l4.6 4.6M291 291.3l4.6 -4.6M293.33 286.7l4.6 4.6M293.33 291.3l4.6 -4.6M295.44 286.7l4.6 4.6M295.44 291.3l4.6 -4.6M297.36 286.7l4.6 4.6M297.36 291.3l4.6 -4.6M299.13 286.7l4.6 4.6M299.13 291.3l4.6 -4.6M300.77 286.7l4.6 4.6M300.77 291.3l4.6 -4.6M470.36 200.1l4.6 4.6M470.36 204.7l4.6 -4.6M267.2 43.3l4.6 4.6M267.2 47.9l4.6 -4.6"/>
<path d="M303.3 291.3 L303.8 291.3 L304.3 291.3 L304.8 291.3 L305.3 291.3 L305.8 291.3 L306.3 291.3 L306.8 291.3 L307.3 291.3 L307.8 291.3 L308.3 291.29 L308.8 291.28 L309.3 291.27 L309.8 291.25 L310.3 291.23 L310.8 291.21 L311.3 291.18 L311.8 291.16 L312.3 291.13 L312.8 291.1 L313.3 291.07 L313.8 291.03 L314.3 291 L314.8 290.96 L315.3 290.91 L315.8 290.86 L316.3 290.8 L316.8 290.73 L317.3 290.66 L317.8 290.58 L318.3 290.5 L318.8 290.42 L319.3 290.32 L319.8 290.23 L320.3 290.12 L320.8 290 L321.3 289.88 L321.8 289.74 L322.3 289.6 L322.8 289.44 L323.3 289.25 L323.8 289.04 L324.3 288.82 L324.8 288.58 L325.3 288.33 L325.8 288.07 L326.3 287.81 L326.8 287.56 L327.3 287.3 L327.8 287.04 L328.3 286.78 L328.8 286.5 L329.3 286.22 L329.8 285.94 L330.3 285.65 L330.8 285.36 L331.3 285.07 L331.8 284.79 L332.3 284.5 L332.8 284.21 L333.3 283.93 L333.8 283.64 L334.3 283.35 L334.8 283.06 L335.3 282.76 L335.8 282.47 L336.3 282.18 L336.8 281.88 L337.3 281.59 L337.8 281.29 L338.3 281 L338.8 280.71 L339.3 280.42 L339.8 280.13 L340.3 279.84 L340.8 279.55 L341.3 279.26 L341.8 278.98 L342.3 278.7 L342.8 278.42 L343.3 278.14 L343.8 277.87 L344.3 277.6 L344.8 277.33 L345.3 277.06 L345.8 276.79 L346.3 276.52 L346.8 276.25 L347.3 275.98 L347.8 275.72 L348.3 275.45 L348.8 275.18 L349.3 274.92 L349.8 274.65 L350.3 274.38 L350.8 274.11 L351.3 273.84 L351.8 273.57 L352.3 273.3 L352.8 273.03 L353.3 272.75 L353.8 272.48 L354.3 272.21 L354.8 271.93 L355.3 271.66 L355.8 271.39 L356.3 271.11 L356.8 270.84 L357.3 270.57 L357.8 270.29 L358.3 270.02 L358.8 269.75 L359.3 269.47 L359.8 269.2 L360.3 268.92 L360.8 268.65 L361.3 268.37 L361.8 268.1 L362.3 267.82 L362.8 267.55 L363.3 267.27 L363.8 267 L364.3 266.72 L364.8 266.45 L365.3 266.17 L365.8 265.9 L366.3 265.62 L366.8 265.35 L367.3 265.07 L367.8 264.79 L368.3 264.52 L368.8 264.24 L369.3 263.96 L369.8 263.69 L370.3 263.41 L370.8 263.13 L371.3 262.85 L371.8 262.57 L372.3 262.3 L372.8 262.02 L373.3 261.74 L373.8 261.46 L374.3 261.18 L374.8 260.9 L375.3 260.62 L375.8 260.35 L376.3 260.07 L376.8 259.79 L377.3 259.51 L377.8 259.23 L378.3 258.94 L378.8 258.66 L379.3 258.38 L379.8 258.1 L380.3 257.82 L380.8 257.54 L381.3 257.26 L381.8 256.97 L382.3 256.69 L382.8 256.41 L383.3 256.13 L383.8 255.84 L384.3 255.56 L384.8 255.28 L385.3 254.99 L385.8 254.71 L386.3 254.42 L386.8 254.14 L387.3 253.85 L387.8 253.56 L388.3 253.28 L388.8 252.99 L389.3 252.71 L389.8 252.42 L390.3 252.13 L390.8 251.84 L391.3 251.55 L391.8 251.27 L392.3 250.98 L392.8 250.69 L393.3 250.4 L393.8 250.11 L394.3 249.82 L394.8 249.53 L395.3 249.24 L395.8 248.95 L396.3 248.66 L396.8 248.37 L397.3 248.08 L397.8 247.79 L398.3 247.5 L398.8 247.21 L399.3 246.92 L399.8 246.63 L400.3 246.34 L400.8 246.04 L401.3 245.75 L401.8 245.46 L402.3 245.17 L402.8 244.88 L403.3 244.59 L403.8 244.29 L404.3 244 L404.8 243.71 L405.3 243.42 L405.8 243.13 L406.3 242.83 L406.8 242.54 L407.3 242.25 L407.8 241.96 L408.3 241.67 L408.8 241.37 L409.3 241.08 L409.8 240.79 L410.3 240.5 L410.8 240.21 L411.3 239.91 L411.8 239.62 L412.3 239.33 L412.8 239.04 L413.3 238.75 L413.8 238.46 L414.3 238.17 L414.8 237.87 L415.3 237.58 L415.8 237.29 L416.3 237 L416.8 236.71 L417.3 236.43 L417.8 236.14 L418.3 235.85 L418.8 235.56 L419.3 235.27 L419.8 234.98 L420.3 234.68 L420.8 234.39 L421.3 234.1 L421.8 233.8 L422.3 233.5 L422.8 233.2 L423.3 232.9 L423.8 232.59 L424.3 232.28 L424.8 231.98 L425.3 231.67 L425.8 231.36 L426.3 231.05 L426.8 230.73 L427.3 230.42 L427.8 230.1 L428.3 229.79 L428.8 229.47 L429.3 229.16 L429.8 228.84 L430.3 228.53 L430.8 228.21 L431.3 227.9 L431.8 227.58 L432.3 227.27 L432.8 226.95 L433.3 226.64 L433.8 226.33 L434.3 226.02 L434.8 225.71 L435.3 225.4 L435.8 225.09 L436.3 224.78 L436.8 224.48 L437.3 224.17 L437.8 223.87 L438.3 223.56 L438.8 223.26 L439.3 222.95 L439.8 222.64 L440.3 222.34 L440.8 222.03 L441.3 221.73 L441.8 221.42 L442.3 221.12 L442.8 220.81 L443.3 220.51 L443.8 220.21 L444.3 219.91 L444.8 219.61 L445.3 219.31 L445.8 219.01 L446.3 218.72 L446.8 218.42 L447.3 218.13 L447.8 217.84 L448.3 217.55 L448.8 217.27 L449.3 216.99 L449.8 216.71 L450.3 216.43 L450.8 216.15 L451.3 215.88 L451.8 215.61 L452.3 215.34 L452.8 215.07 L453.3 214.81 L453.8 214.54 L454.3 214.28 L454.8 214.02 L455.3 213.76 L455.8 213.5 L456.3 213.24 L456.8 212.98 L457.3 212.73 L457.8 212.48 L458.3 212.23 L458.8 211.97 L459.3 211.73 L459.8 211.48 L460.3 211.23 L460.8 210.99 L461.3 210.75 L461.8 210.5 L462.3 210.26 L462.8 210.02 L463.3 209.79 L463.8 209.55 L464.3 209.32 L464.8 209.09 L465.3 208.85 L465.8 208.62 L466.3 208.4 L466.8 208.17 L467.3 207.95 L467.8 207.73 L468.3 207.51 L468.8 207.29 L469.3 207.07 L469.8 206.86 L470.3 206.64 L470.8 206.43 L471.3 206.22 L471.8 206.01 L472.3 205.8 L472.8 205.59 L473.3 205.38 L473.8 205.18 L474.3 204.97 L474.8 204.76 L474.96 204.7 L470.36 200.1 L470.2 200.16 L469.7 200.37 L469.2 200.58 L468.7 200.78 L468.2 200.99 L467.7 201.2 L467.2 201.41 L466.7 201.62 L466.2 201.83 L465.7 202.04 L465.2 202.26 L464.7 202.47 L464.2 202.69 L463.7 202.91 L463.2 203.13 L462.7 203.35 L462.2 203.57 L461.7 203.8 L461.2 204.02 L460.7 204.25 L460.2 204.49 L459.7 204.72 L459.2 204.95 L458.7 205.19 L458.2 205.42 L457.7 205.66 L457.2 205.9 L456.7 206.15 L456.2 206.39 L455.7 206.63 L455.2 206.88 L454.7 207.13 L454.2 207.37 L453.7 207.63 L453.2 207.88 L452.7 208.13 L452.2 208.38 L451.7 208.64 L451.2 208.9 L450.7 209.16 L450.2 209.42 L449.7 209.68 L449.2 209.94 L448.7 210.21 L448.2 210.47 L447.7 210.74 L447.2 211.01 L446.7 211.28 L446.2 211.55 L445.7 211.83 L445.2 212.11 L444.7 212.39 L444.2 212.67 L443.7 212.95 L443.2 213.24 L442.7 213.53 L442.2 213.82 L441.7 214.12 L441.2 214.41 L440.7 214.71 L440.2 215.01 L439.7 215.31 L439.2 215.61 L438.7 215.91 L438.2 216.21 L437.7 216.52 L437.2 216.82 L436.7 217.13 L436.2 217.43 L435.7 217.74 L435.2 218.04 L434.7 218.35 L434.2 218.66 L433.7 218.96 L433.2 219.27 L432.7 219.57 L432.2 219.88 L431.7 220.18 L431.2 220.49 L430.7 220.8 L430.2 221.11 L429.7 221.42 L429.2 221.73 L428.7 222.04 L428.2 222.35 L427.7 222.67 L427.2 222.98 L426.7 223.3 L426.2 223.61 L425.7 223.93 L425.2 224.24 L424.7 224.56 L424.2 224.87 L423.7 225.19 L423.2 225.5 L422.7 225.82 L422.2 226.13 L421.7 226.45 L421.2 226.76 L420.7 227.07 L420.2 227.38 L419.7 227.68 L419.2 227.99 L418.7 228.3 L418.2 228.6 L417.7 228.9 L417.2 229.2 L416.7 229.5 L416.2 229.79 L415.7 230.08 L415.2 230.38 L414.7 230.67 L414.2 230.96 L413.7 231.25 L413.2 231.54 L412.7 231.83 L412.2 232.11 L411.7 232.4 L411.2 232.69 L410.7 232.98 L410.2 233.27 L409.7 233.57 L409.2 233.86 L408.7 234.15 L408.2 234.44 L407.7 234.73 L407.2 235.02 L406.7 235.31 L406.2 235.61 L405.7 235.9 L405.2 236.19 L404.7 236.48 L404.2 236.77 L403.7 237.07 L403.2 237.36 L402.7 237.65 L402.2 237.94 L401.7 238.23 L401.2 238.53 L400.7 238.82 L400.2 239.11 L399.7 239.4 L399.2 239.69 L398.7 239.99 L398.2 240.28 L397.7 240.57 L397.2 240.86 L396.7 241.15 L396.2 241.44 L395.7 241.74 L395.2 242.03 L394.7 242.32 L394.2 242.61 L393.7 242.9 L393.2 243.19 L392.7 243.48 L392.2 243.77 L391.7 244.06 L391.2 244.35 L390.7 244.64 L390.2 244.93 L389.7 245.22 L389.2 245.51 L388.7 245.8 L388.2 246.09 L387.7 246.38 L387.2 246.67 L386.7 246.95 L386.2 247.24 L385.7 247.53 L385.2 247.82 L384.7 248.11 L384.2 248.39 L383.7 248.68 L383.2 248.96 L382.7 249.25 L382.2 249.54 L381.7 249.82 L381.2 250.11 L380.7 250.39 L380.2 250.68 L379.7 250.96 L379.2 251.24 L378.7 251.53 L378.2 251.81 L377.7 252.09 L377.2 252.37 L376.7 252.66 L376.2 252.94 L375.7 253.22 L375.2 253.5 L374.7 253.78 L374.2 254.06 L373.7 254.34 L373.2 254.63 L372.7 254.91 L372.2 255.19 L371.7 255.47 L371.2 255.75 L370.7 256.02 L370.2 256.3 L369.7 256.58 L369.2 256.86 L368.7 257.14 L368.2 257.42 L367.7 257.7 L367.2 257.97 L366.7 258.25 L366.2 258.53 L365.7 258.81 L365.2 259.09 L364.7 259.36 L364.2 259.64 L363.7 259.92 L363.2 260.19 L362.7 260.47 L362.2 260.75 L361.7 261.02 L361.2 261.3 L360.7 261.57 L360.2 261.85 L359.7 262.12 L359.2 262.4 L358.7 262.67 L358.2 262.95 L357.7 263.22 L357.2 263.5 L356.7 263.77 L356.2 264.05 L355.7 264.32 L355.2 264.6 L354.7 264.87 L354.2 265.15 L353.7 265.42 L353.2 265.69 L352.7 265.97 L352.2 266.24 L351.7 266.51 L351.2 266.79 L350.7 267.06 L350.2 267.33 L349.7 267.61 L349.2 267.88 L348.7 268.15 L348.2 268.43 L347.7 268.7 L347.2 268.97 L346.7 269.24 L346.2 269.51 L345.7 269.78 L345.2 270.05 L344.7 270.32 L344.2 270.58 L343.7 270.85 L343.2 271.12 L342.7 271.38 L342.2 271.65 L341.7 271.92 L341.2 272.19 L340.7 272.46 L340.2 272.73 L339.7 273 L339.2 273.27 L338.7 273.54 L338.2 273.82 L337.7 274.1 L337.2 274.38 L336.7 274.66 L336.2 274.95 L335.7 275.24 L335.2 275.53 L334.7 275.82 L334.2 276.11 L333.7 276.4 L333.2 276.69 L332.7 276.99 L332.2 277.28 L331.7 277.58 L331.2 277.87 L330.7 278.16 L330.2 278.46 L329.7 278.75 L329.2 279.04 L328.7 279.33 L328.2 279.61 L327.7 279.9 L327.2 280.19 L326.7 280.47 L326.2 280.76 L325.7 281.05 L325.2 281.34 L324.7 281.62 L324.2 281.9 L323.7 282.18 L323.2 282.44 L322.7 282.7 L322.2 282.96 L321.7 283.21 L321.2 283.47 L320.7 283.73 L320.2 283.98 L319.7 284.22 L319.2 284.44 L318.7 284.65 L318.2 284.84 L317.7 285 L317.2 285.14 L316.7 285.28 L316.2 285.4 L315.7 285.52 L315.2 285.63 L314.7 285.72 L314.2 285.82 L313.7 285.9 L313.2 285.98 L312.7 286.06 L312.2 286.13 L311.7 286.2 L311.2 286.26 L310.7 286.31 L310.2 286.36 L309.7 286.4 L309.2 286.43 L308.7 286.47 L308.2 286.5 L307.7 286.53 L307.2 286.56 L306.7 286.58 L306.2 286.61 L305.7 286.63 L305.2 286.65 L304.7 286.67 L304.2 286.68 L303.7 286.69 L303.2 286.7 L302.7 286.7 L302.2 286.7 L301.7 286.7 L301.2 286.7 L300.7 286.7 L300.2 286.7 L299.7 286.7 L299.2 286.7 L298.7 286.7Z" fill="#00ff00" stroke-linejoin="round"/>
<path d="M303.3 286.7 L303.8 286.7 L304.3 286.7 L304.8 286.7 L305.3 286.7 L305.8 286.7 L306.3 286.7 L306.8 286.7 L307.3 286.7 L307.8 286.7 L308.3 286.69 L308.8 286.68 L309.3 286.67 L309.8 286.65 L310.3 286.63 L310.8 286.61 L311.3 286.58 L311.8 286.56 L312.3 286.53 L312.8 286.5 L313.3 286.47 L313.8 286.43 L314.3 286.4 L314.8 286.36 L315.3 286.31 L315.8 286.26 L316.3 286.2 L316.8 286.13 L317.3 286.06 L317.8 285.98 L318.3 285.9 L318.8 285.82 L319.3 285.72 L319.8 285.63 L320.3 285.52 L320.8 285.4 L321.3 285.28 L321.8 285.14 L322.3 285 L322.8 284.84 L323.3 284.65 L323.8 284.44 L324.3 284.22 L324.8 283.98 L325.3 283.73 L325.8 283.47 L326.3 283.21 L326.8 282.96 L327.3 282.7 L327.8 282.44 L328.3 282.18 L328.8 281.9 L329.3 281.62 L329.8 281.34 L330.3 281.05 L330.8 280.76 L331.3 280.47 L331.8 280.19 L332.3 279.9 L332.8 279.61 L333.3 279.33 L333.8 279.04 L334.3 278.75 L334.8 278.46 L335.3 278.16 L335.8 277.87 L336.3 277.58 L336.8 277.28 L337.3 276.99 L337.8 276.69 L338.3 276.4 L338.8 276.11 L339.3 275.82 L339.8 275.53 L340.3 275.24 L340.8 274.95 L341.3 274.66 L341.8 274.38 L342.3 274.1 L342.8 273.82 L343.3 273.54 L343.8 273.27 L344.3 273 L344.8 272.73 L345.3 272.46 L345.8 272.19 L346.3 271.92 L346.8 271.65 L347.3 271.38 L347.8 271.12 L348.3 270.85 L348.8 270.58 L349.3 270.32 L349.8 270.05 L350.3 269.78 L350.8 269.51 L351.3 269.24 L351.8 268.97 L352.3 268.7 L352.8 268.43 L353.3 268.15 L353.8 267.88 L354.3 267.61 L354.8 267.33 L355.3 267.06 L355.8 266.79 L356.3 266.51 L356.8 266.24 L357.3 265.97 L357.8 265.69 L358.3 265.42 L358.8 265.15 L359.3 264.87 L359.8 264.6 L360.3 264.32 L360.8 264.05 L361.3 263.77 L361.8 263.5 L362.3 263.22 L362.8 262.95 L363.3 262.67 L363.8 262.4 L364.3 262.12 L364.8 261.85 L365.3 261.57 L365.8 261.3 L366.3 261.02 L366.8 260.75 L367.3 260.47 L367.8 260.19 L368.3 259.92 L368.8 259.64 L369.3 259.36 L369.8 259.09 L370.3 258.81 L370.8 258.53 L371.3 258.25 L371.8 257.97 L372.3 257.7 L372.8 257.42 L373.3 257.14 L373.8 256.86 L374.3 256.58 L374.8 256.3 L375.3 256.02 L375.8 255.75 L376.3 255.47 L376.8 255.19 L377.3 254.91 L377.8 254.63 L378.3 254.34 L378.8 254.06 L379.3 253.78 L379.8 253.5 L380.3 253.22 L380.8 252.94 L381.3 252.66 L381.8 252.37 L382.3 252.09 L382.8 251.81 L383.3 251.53 L383.8 251.24 L384.3 250.96 L384.8 250.68 L385.3 250.39 L385.8 250.11 L386.3 249.82 L386.8 249.54 L387.3 249.25 L387.8 248.96 L388.3 248.68 L388.8 248.39 L389.3 248.11 L389.8 247.82 L390.3 247.53 L390.8 247.24 L391.3 246.95 L391.8 246.67 L392.3 246.38 L392.8 246.09 L393.3 245.8 L393.8 245.51 L394.3 245.22 L394.8 244.93 L395.3 244.64 L395.8 244.35 L396.3 244.06 L396.8 243.77 L397.3 243.48 L397.8 243.19 L398.3 242.9 L398.8 242.61 L399.3 242.32 L399.8 242.03 L400.3 241.74 L400.8 241.44 L401.3 241.15 L401.8 240.86 L402.3 240.57 L402.8 240.28 L403.3 239.99 L403.8 239.69 L404.3 239.4 L404.8 239.11 L405.3 238.82 L405.8 238.53 L406.3 238.23 L406.8 237.94 L407.3 237.65 L407.8 237.36 L408.3 237.07 L408.8 236.77 L409.3 236.48 L409.8 236.19 L410.3 235.9 L410.8 235.61 L411.3 235.31 L411.8 235.02 L412.3 234.73 L412.8 234.44 L413.3 234.15 L413.8 233.86 L414.3 233.57 L414.8 233.27 L415.3 232.98 L415.8 232.69 L416.3 232.4 L416.8 232.11 L417.3 231.83 L417.8 231.54 L418.3 231.25 L418.8 230.96 L419.3 230.67 L419.8 230.38 L420.3 230.08 L420.8 229.79 L421.3 229.5 L421.8 229.2 L422.3 228.9 L422.8 228.6 L423.3 228.3 L423.8 227.99 L424.3 227.68 L424.8 227.38 L425.3 227.07 L425.8 226.76 L426.3 226.45 L426.8 226.13 L427.3 225.82 L427.8 225.5 L428.3 225.19 L428.8 224.87 L429.3 224.56 L429.8 224.24 L430.3 223.93 L430.8 223.61 L431.3 223.3 L431.8 222.98 L432.3 222.67 L432.8 222.35 L433.3 222.04 L433.8 221.73 L434.3 221.42 L434.8 221.11 L435.3 220.8 L435.8 220.49 L436.3 220.18 L436.8 219.88 L437.3 219.57 L437.8 219.27 L438.3 218.96 L438.8 218.66 L439.3 218.35 L439.8 218.04 L440.3 217.74 L440.8 217.43 L441.3 217.13 L441.8 216.82 L442.3 216.52 L442.8 216.21 L443.3 215.91 L443.8 215.61 L444.3 215.31 L444.8 215.01 L445.3 214.71 L445.8 214.41 L446.3 214.12 L446.8 213.82 L447.3 213.53 L447.8 213.24 L448.3 212.95 L448.8 212.67 L449.3 212.39 L449.8 212.11 L450.3 211.83 L450.8 211.55 L451.3 211.28 L451.8 211.01 L452.3 210.74 L452.8 210.47 L453.3 210.21 L453.8 209.94 L454.3 209.68 L454.8 209.42 L455.3 209.16 L455.8 208.9 L456.3 208.64 L456.8 208.38 L457.3 208.13 L457.8 207.88 L458.3 207.63 L458.8 207.37 L459.3 207.13 L459.8 206.88 L460.3 206.63 L460.8 206.39 L461.3 206.15 L461.8 205.9 L462.3 205.66 L462.8 205.42 L463.3 205.19 L463.8 204.95 L464.3 204.72 L464.8 204.49 L465.3 204.25 L465.8 204.02 L466.3 203.8 L466.8 203.57 L467.3 203.35 L467.8 203.13 L468.3 202.91 L468.8 202.69 L469.3 202.47 L469.8 202.26 L470.3 202.04 L470.8 201.83 L471.3 201.62 L471.8 201.41 L472.3 201.2 L472.8 200.99 L473.3 200.78 L473.8 200.58 L474.3 200.37 L474.8 200.16 L474.96 200.1 L470.36 204.7 L470.2 204.76 L469.7 204.97 L469.2 205.18 L468.7 205.38 L468.2 205.59 L467.7 205.8 L467.2 206.01 L466.7 206.22 L466.2 206.43 L465.7 206.64 L465.2 206.86 L464.7 207.07 L464.2 207.29 L463.7 207.51 L463.2 207.73 L462.7 207.95 L462.2 208.17 L461.7 208.4 L461.2 208.62 L460.7 208.85 L460.2 209.09 L459.7 209.32 L459.2 209.55 L458.7 209.79 L458.2 210.02 L457.7 210.26 L457.2 210.5 L456.7 210.75 L456.2 210.99 L455.7 211.23 L455.2 211.48 L454.7 211.73 L454.2 211.97 L453.7 212.23 L453.2 212.48 L452.7 212.73 L452.2 212.98 L451.7 213.24 L451.2 213.5 L450.7 213.76 L450.2 214.02 L449.7 214.28 L449.2 214.54 L448.7 214.81 L448.2 215.07 L447.7 215.34 L447.2 215.61 L446.7 215.88 L446.2 216.15 L445.7 216.43 L445.2 216.71 L444.7 216.99 L444.2 217.27 L443.7 217.55 L443.2 217.84 L442.7 218.13 L442.2 218.42 L441.7 218.72 L441.2 219.01 L440.7 219.31 L440.2 219.61 L439.7 219.91 L439.2 220.21 L438.7 220.51 L438.2 220.81 L437.7 221.12 L437.2 221.42 L436.7 221.73 L436.2 222.03 L435.7 222.34 L435.2 222.64 L434.7 222.95 L434.2 223.26 L433.7 223.56 L433.2 223.87 L432.7 224.17 L432.2 224.48 L431.7 224.78 L431.2 225.09 L430.7 225.4 L430.2 225.71 L429.7 226.02 L429.2 226.33 L428.7 226.64 L428.2 226.95 L427.7 227.27 L427.2 227.58 L426.7 227.9 L426.2 228.21 L425.7 228.53 L425.2 228.84 L424.7 229.16 L424.2 229.47 L423.7 229.79 L423.2 230.1 L422.7 230.42 L422.2 230.73 L421.7 231.05 L421.2 231.36 L420.7 231.67 L420.2 231.98 L419.7 232.28 L419.2 232.59 L418.7 232.9 L418.2 233.2 L417.7 233.5 L417.2 233.8 L416.7 234.1 L416.2 234.39 L415.7 234.68 L415.2 234.98 L414.7 235.27 L414.2 235.56 L413.7 235.85 L413.2 236.14 L412.7 236.43 L412.2 236.71 L411.7 237 L411.2 237.29 L410.7 237.58 L410.2 237.87 L409.7 238.17 L409.2 238.46 L408.7 238.75 L408.2 239.04 L407.7 239.33 L407.2 239.62 L406.7 239.91 L406.2 240.21 L405.7 240.5 L405.2 240.79 L404.7 241.08 L404.2 241.37 L403.7 241.67 L403.2 241.96 L402.7 242.25 L402.2 242.54 L401.7 242.83 L401.2 243.13 L400.7 243.42 L400.2 243.71 L399.7 244 L399.2 244.29 L398.7 244.59 L398.2 244.88 L397.7 245.17 L397.2 245.46 L396.7 245.75 L396.2 246.04 L395.7 246.34 L395.2 246.63 L394.7 246.92 L394.2 247.21 L393.7 247.5 L393.2 247.79 L392.7 248.08 L392.2 248.37 L391.7 248.66 L391.2 248.95 L390.7 249.24 L390.2 249.53 L389.7 249.82 L389.2 250.11 L388.7 250.4 L388.2 250.69 L387.7 250.98 L387.2 251.27 L386.7 251.55 L386.2 251.84 L385.7 252.13 L385.2 252.42 L384.7 252.71 L384.2 252.99 L383.7 253.28 L383.2 253.56 L382.7 253.85 L382.2 254.14 L381.7 254.42 L381.2 254.71 L380.7 254.99 L380.2 255.28 L379.7 255.56 L379.2 255.84 L378.7 256.13 L378.2 256.41 L377.7 256.69 L377.2 256.97 L376.7 257.26 L376.2 257.54 L375.7 257.82 L375.2 258.1 L374.7 258.38 L374.2 258.66 L373.7 258.94 L373.2 259.23 L372.7 259.51 L372.2 259.79 L371.7 260.07 L371.2 260.35 L370.7 260.62 L370.2 260.9 L369.7 261.18 L369.2 261.46 L368.7 261.74 L368.2 262.02 L367.7 262.3 L367.2 262.57 L366.7 262.85 L366.2 263.13 L365.7 263.41 L365.2 263.69 L364.7 263.96 L364.2 264.24 L363.7 264.52 L363.2 264.79 L362.7 265.07 L362.2 265.35 L361.7 265.62 L361.2 265.9 L360.7 266.17 L360.2 266.45 L359.7 266.72 L359.2 267 L358.7 267.27 L358.2 267.55 L357.7 267.82 L357.2 268.1 L356.7 268.37 L356.2 268.65 L355.7 268.92 L355.2 269.2 L354.7 269.47 L354.2 269.75 L353.7 270.02 L353.2 270.29 L352.7 270.57 L352.2 270.84 L351.7 271.11 L351.2 271.39 L350.7 271.66 L350.2 271.93 L349.7 272.21 L349.2 272.48 L348.7 272.75 L348.2 273.03 L347.7 273.3 L347.2 273.57 L346.7 273.84 L346.2 274.11 L345.7 274.38 L345.2 274.65 L344.7 274.92 L344.2 275.18 L343.7 275.45 L343.2 275.72 L342.7 275.98 L342.2 276.25 L341.7 276.52 L341.2 276.79 L340.7 277.06 L340.2 277.33 L339.7 277.6 L339.2 277.87 L338.7 278.14 L338.2 278.42 L337.7 278.7 L337.2 278.98 L336.7 279.26 L336.2 279.55 L335.7 279.84 L335.2 280.13 L334.7 280.42 L334.2 280.71 L333.7 281 L333.2 281.29 L332.7 281.59 L332.2 281.88 L331.7 282.18 L331.2 282.47 L330.7 282.76 L330.2 283.06 L329.7 283.35 L329.2 283.64 L328.7 283.93 L328.2 284.21 L327.7 284.5 L327.2 284.79 L326.7 285.07 L326.2 285.36 L325.7 285.65 L325.2 285.94 L324.7 286.22 L324.2 286.5 L323.7 286.78 L323.2 287.04 L322.7 287.3 L322.2 287.56 L321.7 287.81 L321.2 288.07 L320.7 288.33 L320.2 288.58 L319.7 288.82 L319.2 289.04 L318.7 289.25 L318.2 289.44 L317.7 289.6 L317.2 289.74 L316.7 289.88 L316.2 290 L315.7 290.12 L315.2 290.23 L314.7 290.32 L314.2 290.42 L313.7 290.5 L313.2 290.58 L312.7 290.66 L312.2 290.73 L311.7 290.8 L311.2 290.86 L310.7 290.91 L310.2 290.96 L309.7 291 L309.2 291.03 L308.7 291.07 L308.2 291.1 L307.7 291.13 L307.2 291.16 L306.7 291.18 L306.2 291.21 L305.7 291.23 L305.2 291.25 L304.7 291.27 L304.2 291.28 L303.7 291.29 L303.2 291.3 L302.7 291.3 L302.2 291.3 L301.7 291.3 L301.2 291.3 L300.7 291.3 L300.2 291.3 L299.7 291.3 L299.2 291.3 L298.7 291.3Z" fill="#00ff00" stroke-linejoin="round"/>
</g>

<g stroke="#0000ff" fill="none" stroke-width="0.58">
<path d="M142.89 286.2 L244.71 274 L260.04 261 L269.01 249 L275.37 237 L280.3 223.6 L284.33 210 L287.74 196 L290.69 179 L293.3 162.4 L295.63 150.6 L297.74 140 L299.66 126.4 L301.43 113.6 L303.07 100.5 L304.59 93.6 L306.02 87 L307.36 80 L308.63 73 L309.82 67.3 L310.96 62 L312.03 57 L313.06 52 L314.05 47.3 L314.99 43.5 L315.89 40.5 L316.76 38 L317.59 35.7 L318.4 33.6 L319.17 31.5 L319.92 29.66 L320.65 28.33 L321.35 27.24 L322.03 26.26 L322.69 25.33 L323.33 24.49 L323.95 23.75 L324.56 23.11 L325.15 22.53 L325.72 22.02 L326.28 21.59 L326.83 21.2 L327.36 20.85 L327.88 20.56 L328.39 20.31 L328.89 20.09 L329.37 19.9 L329.85 19.74 L330.31 19.62 L330.77 19.51 L331.22 19.43 L331.65 19.35 L332.08 19.29 L332.5 19.23 L332.92 19.18 L333.32 19.14 L333.72 19.11 L334.11 19.1 L334.5 19.08 L334.88 19.07 L335.25 19.06 L335.61 19.05 L335.97 19.05 L336.33 19.04 L336.67 19.03 L337.02 19.03 L337.35 19.02 L337.69 19.02 L338.01 19.01 L338.34 19.01 L338.66 19.01 L338.97 19 L339.28 19 L339.58 19 L339.88 19 L340.47 19 L341.05 19 L341.61 19 L342.15 19 L342.69 19 L343.21 19 L343.72 19 L344.21 19 L344.7 19 L345.17 19 L345.64 19 L346.1 19 L346.54 19 L346.98 19 L347.41 19 L347.83 19 L348.24 19 L348.65 19 L349.05 19 L349.44 19 L349.82 19 L350.2 19 L350.57 19 L350.94 19 L351.3 19 L351.65 19 L352 19 L352.34 19 L352.68 19 L353.01 19 L353.34 19 L353.66 19 L353.98 19 L354.3 19 L354.61 19 L354.91 19 L355.21 19 L355.66 19 L356.09 19 L356.52 19 L356.94 19 L357.35 19 L357.75 19 L358.15 19 L358.53 19 L358.92 19 L359.29 19 L359.66 19 L360.03 19 L360.38 19 L360.74 19 L361.08 19 L361.42 19 L361.76 19 L362.09 19 L362.42 19 L362.74 19 L363.05 19 L363.37 19 L363.67 19 L363.98 19 L364.38 19 L364.77 19 L365.15 19 L365.53 19 L365.9 19 L366.27 19 L366.63 19 L366.98 19 L367.33 19 L367.67 19 L368.01 19 L368.34 19 L368.67 19 L368.99 19 L369.31 19 L369.62 19 L369.93 19 L370.24 19 L370.54 19 L370.91 19 L371.27 19 L371.63 19 L371.98 19 L372.33 19 L372.67 19 L373.01 19 L373.34 19 L373.67 19 L373.99 19 L374.31 19 L374.62 19 L374.93 19 L375.23 19 L375.53 19 L375.89 19 L376.24 19 L376.58 19 L376.92 19 L377.25 19 L377.58 19 L377.9 19 L378.22 19 L378.54 19 L378.85 19 L379.15 19 L379.45 19 L379.8 19 L380.14 19 L380.48 19 L380.81 19 L381.14 19 L381.46 19 L381.77 19 L382.09 19 L382.39 19 L382.7 19 L383.04 19 L383.38 19 L383.71 19 L384.04 19 L384.36 19 L384.68 19 L384.99 19 L385.3 19 L385.6 19 L385.9 19 L386.24 19 L386.56 19 L386.89 19 L387.21 19 L387.52 19 L387.83 19 L388.13 19 L388.44 19 L388.77 19 L389.09 19 L389.41 19 L389.73 19 L390.04 19 L390.35 19 L390.65 19 L390.98 19 L391.3 19 L391.62 19 L391.93 19 L392.24 19 L392.55 19 L392.85 19 L393.18 19 L393.5 19 L393.81 19 L394.12 19 L394.43 19 L394.73 19 L395.05 19 L395.37 19 L395.69 19 L395.99 19 L396.3 19 L396.6 19 L396.92 19 L397.23 19 L397.55 19 L397.85 19 L398.15 19 L398.47 19 L398.79 19 L399.1 19 L399.4 19 L399.7 19 L400.02 19 L400.33 19 L400.64 19 L400.95 19 L401.25 19 L401.56 19 L401.87 19 L402.18 19 L402.48 19 L402.79 19 L403.1 19 L403.41 19 L403.71 19 L404.03 19 L404.34 19 L404.64 19 L404.94 19 L405.26 19 L405.57 19 L405.87 19 L406.17 19 L406.48 19 L406.79 19 L407.09 19 L407.4 19 L407.71 19 L408.01 19 L408.33 19 L408.64 19 L408.94 19 L409.24 19 L409.55 19 L409.86 19 L410.16 19 L410.47 19 L410.77 19 L411.07 19 L411.38 19 L411.68 19 L411.98 19 L412.29 19 L412.59 19 L412.9 19 L413.21 19 L413.51 19 L413.82 19 L414.12 19 L414.43 19 L414.74 19 L415.04 19 L415.35 19 L415.65 19 L415.96 19 L416.26 19 L416.56 19 L416.87 19 L417.17 19 L417.48 19 L417.78 19 L418.09 19 L418.39 19 L418.7 19 L419 19 L419.3 19 L419.61 19 L419.91 19 L420.22 19 L420.52 19 L420.82 19 L421.13 19 L421.43 19 L421.73 19 L422.03 19 L422.34 19 L422.64 19 L422.95 19 L423.25 19 L423.55 19 L423.86 19 L424.16 19 L424.46 19 L424.77 19 L425.07 19 L425.37 19 L425.68 19 L425.98 19 L426.28 19 L426.58 19 L426.88 19 L427.18 19 L427.49 19 L427.79 19 L428.09 19 L428.4 19 L428.7 19 L429 19 L429.3 19 L429.61 19 L429.91 19 L430.21 19 L430.52 19 L430.82 19 L431.12 19 L431.42 19 L431.72 19 L432.03 19 L432.33 19 L432.63 19 L432.94 19 L433.24 19 L433.54 19 L433.84 19 L434.14 19 L434.44 19 L434.74 19 L435.04 19 L435.34 19 L435.64 19 L435.95 19 L436.25 19 L436.55 19 L436.85 19 L437.15 19 L437.46 19 L437.76 19 L438.06 19 L438.36 19 L438.66 19 L438.96 19 L439.27 19 L439.57 19 L439.87 19 L440.17 19 L440.47 19 L440.77 19 L441.07 19 L441.38 19 L441.68 19 L441.98 19 L442.28 19 L442.58 19 L442.88 19 L443.18 19 L443.49 19 L443.79 19 L444.09 19 L444.39 19 L444.69 19 L445 19 L445.3 19 L445.6 19 L445.9 19 L446.2 19 L446.5 19 L446.8 19 L447.1 19 L447.4 19 L447.7 19 L448.01 19 L448.31 19 L448.61 19 L448.91 19 L449.21 19 L449.51 19 L449.81 19 L450.11 19 L450.41 19 L450.71 19 L451.01 19 L451.31 19 L451.61 19 L451.92 19 L452.22 19 L452.52 19 L452.82 19 L453.12 19 L453.42 19 L453.72 19 L454.02 19 L454.32 19 L454.62 19 L454.93 19 L455.23 19 L455.53 19 L455.83 19 L456.13 19 L456.43 19 L456.73 19 L457.03 19 L457.33 19 L457.63 19 L457.93 19 L458.23 19 L458.53 19 L458.83 19 L459.14 19 L459.44 19 L459.74 19 L460.04 19 L460.34 19 L460.64 19 L460.94 19 L461.24 19 L461.54 19 L461.84 19 L462.14 19 L462.44 19 L462.74 19 L463.04 19 L463.34 19 L463.64 19 L463.95 19 L464.25 19 L464.55 19 L464.85 19 L465.15 19 L465.45 19 L465.75 19 L466.05 19 L466.35 19 L466.65 19 L466.95 19 L467.25 19 L467.55 19 L467.85 19 L468.15 19 L468.45 19 L468.75 19 L469.05 19 L469.35 19 L469.65 19 L469.95 19 L470.25 19 L470.55 19 L470.86 19 L471.16 19 L471.46 19 L471.76 19 L472.06 19 L472.36 19 L472.66 19 L472.66 19M249 60.8H290.5" stroke-dasharray="1.4 2.1" stroke-width="0.5"/>
<path d="M140.59 286.2h4.6M142.89 283.9v4.6M140.59 283.9l4.6 4.6M140.59 288.5l4.6 -4.6M242.41 274h4.6M244.71 271.7v4.6M242.41 271.7l4.6 4.6M242.41 276.3l4.6 -4.6M257.74 261h4.6M260.04 258.7v4.6M257.74 258.7l4.6 4.6M257.74 263.3l4.6 -4.6M266.71 249h4.6M269.01 246.7v4.6M266.71 246.7l4.6 4.6M266.71 251.3l4.6 -4.6M273.07 237h4.6M275.37 234.7v4.6M273.07 234.7l4.6 4.6M273.07 239.3l4.6 -4.6M278 223.6h4.6M280.3 221.3v4.6M278 221.3l4.6 4.6M278 225.9l4.6 -4.6M282.03 210h4.6M284.33 207.7v4.6M282.03 207.7l4.6 4.6M282.03 212.3l4.6 -4.6M285.44 196h4.6M287.74 193.7v4.6M285.44 193.7l4.6 4.6M285.44 198.3l4.6 -4.6M288.39 179h4.6M290.69 176.7v4.6M288.39 176.7l4.6 4.6M288.39 181.3l4.6 -4.6M291 162.4h4.6M293.3 160.1v4.6M291 160.1l4.6 4.6M291 164.7l4.6 -4.6M293.33 150.6h4.6M295.63 148.3v4.6M293.33 148.3l4.6 4.6M293.33 152.9l4.6 -4.6M295.44 140h4.6M297.74 137.7v4.6M295.44 137.7l4.6 4.6M295.44 142.3l4.6 -4.6M297.36 126.4h4.6M299.66 124.1v4.6M297.36 124.1l4.6 4.6M297.36 128.7l4.6 -4.6M299.13 113.6h4.6M301.43 111.3v4.6M299.13 111.3l4.6 4.6M299.13 115.9l4.6 -4.6M300.77 100.5h4.6M303.07 98.2v4.6M300.77 98.2l4.6 4.6M300.77 102.8l4.6 -4.6M302.29 93.6h4.6M304.59 91.3v4.6M302.29 91.3l4.6 4.6M302.29 95.9l4.6 -4.6M303.72 87h4.6M306.02 84.7v4.6M303.72 84.7l4.6 4.6M303.72 89.3l4.6 -4.6M305.06 80h4.6M307.36 77.7v4.6M305.06 77.7l4.6 4.6M305.06 82.3l4.6 -4.6M306.33 73h4.6M308.63 70.7v4.6M306.33 70.7l4.6 4.6M306.33 75.3l4.6 -4.6M307.52 67.3h4.6M309.82 65v4.6M307.52 65l4.6 4.6M307.52 69.6l4.6 -4.6M308.66 62h4.6M310.96 59.7v4.6M308.66 59.7l4.6 4.6M308.66 64.3l4.6 -4.6M309.73 57h4.6M312.03 54.7v4.6M309.73 54.7l4.6 4.6M309.73 59.3l4.6 -4.6M310.76 52h4.6M313.06 49.7v4.6M310.76 49.7l4.6 4.6M310.76 54.3l4.6 -4.6M311.75 47.3h4.6M314.05 45v4.6M311.75 45l4.6 4.6M311.75 49.6l4.6 -4.6M312.69 43.5h4.6M314.99 41.2v4.6M312.69 41.2l4.6 4.6M312.69 45.8l4.6 -4.6M313.59 40.5h4.6M315.89 38.2v4.6M313.59 38.2l4.6 4.6M313.59 42.8l4.6 -4.6M314.46 38h4.6M316.76 35.7v4.6M314.46 35.7l4.6 4.6M314.46 40.3l4.6 -4.6M315.29 35.7h4.6M317.59 33.4v4.6M315.29 33.4l4.6 4.6M315.29 38l4.6 -4.6M316.1 33.6h4.6M318.4 31.3v4.6M316.1 31.3l4.6 4.6M316.1 35.9l4.6 -4.6M316.87 31.5h4.6M319.17 29.2v4.6M316.87 29.2l4.6 4.6M316.87 33.8l4.6 -4.6M317.62 29.66h4.6M319.92 27.36v4.6M317.62 27.36l4.6 4.6M317.62 31.96l4.6 -4.6M318.35 28.33h4.6M320.65 26.03v4.6M318.35 26.03l4.6 4.6M318.35 30.63l4.6 -4.6M319.05 27.24h4.6M321.35 24.94v4.6M319.05 24.94l4.6 4.6M319.05 29.54l4.6 -4.6M319.73 26.26h4.6M322.03 23.96v4.6M319.73 23.96l4.6 4.6M319.73 28.56l4.6 -4.6M320.39 25.33h4.6M322.69 23.03v4.6M320.39 23.03l4.6 4.6M320.39 27.63l4.6 -4.6M321.03 24.49h4.6M323.33 22.19v4.6M321.03 22.19l4.6 4.6M321.03 26.79l4.6 -4.6M321.65 23.75h4.6M323.95 21.45v4.6M321.65 21.45l4.6 4.6M321.65 26.05l4.6 -4.6M322.26 23.11h4.6M324.56 20.81v4.6M322.26 20.81l4.6 4.6M322.26 25.41l4.6 -4.6M322.85 22.53h4.6M325.15 20.23v4.6M322.85 20.23l4.6 4.6M322.85 24.83l4.6 -4.6M323.42 22.02h4.6M325.72 19.72v4.6M323.42 19.72l4.6 4.6M323.42 24.32l4.6 -4.6M323.98 21.59h4.6M326.28 19.29v4.6M323.98 19.29l4.6 4.6M323.98 23.89l4.6 -4.6M324.53 21.2h4.6M326.83 18.9v4.6M324.53 18.9l4.6 4.6M324.53 23.5l4.6 -4.6M325.06 20.85h4.6M327.36 18.55v4.6M325.06 18.55l4.6 4.6M325.06 23.15l4.6 -4.6M325.58 20.56h4.6M327.88 18.26v4.6M325.58 18.26l4.6 4.6M325.58 22.86l4.6 -4.6M326.09 20.31h4.6M328.39 18.01v4.6M326.09 18.01l4.6 4.6M326.09 22.61l4.6 -4.6M326.59 20.09h4.6M328.89 17.79v4.6M326.59 17.79l4.6 4.6M326.59 22.39l4.6 -4.6M470.36 19h4.6M472.66 16.7v4.6M470.36 16.7l4.6 4.6M470.36 21.3l4.6 -4.6M267.2 60.8h4.6M269.5 58.5v4.6M267.2 58.5l4.6 4.6M267.2 63.1l4.6 -4.6"/>
<path d="M328.55 21.8 L329.05 21.43 L329.55 21.08 L330.05 20.77 L330.55 20.5 L331.05 20.26 L331.55 20.04 L332.05 19.85 L332.55 19.7 L333.05 19.57 L333.55 19.47 L334.05 19.38 L334.55 19.3 L335.05 19.23 L335.55 19.17 L336.05 19.13 L336.55 19.1 L337.05 19.08 L337.55 19.07 L338.05 19.06 L338.55 19.05 L339.05 19.03 L339.55 19.03 L340.05 19.02 L340.55 19.01 L341.05 19.01 L341.55 19 L342.05 19 L342.55 19 L343.05 19 L343.55 19 L344.05 19 L344.55 19 L345.05 19 L345.55 19 L346.05 19 L346.55 19 L347.05 19 L347.55 19 L348.05 19 L348.55 19 L349.05 19 L349.55 19 L350.05 19 L350.55 19 L351.05 19 L351.55 19 L352.05 19 L352.55 19 L353.05 19 L353.55 19 L354.05 19 L354.55 19 L355.05 19 L355.55 19 L356.05 19 L356.55 19 L357.05 19 L357.55 19 L358.05 19 L358.55 19 L359.05 19 L359.55 19 L360.05 19 L360.55 19 L361.05 19 L361.55 19 L362.05 19 L362.55 19 L363.05 19 L363.55 19 L364.05 19 L364.55 19 L365.05 19 L365.55 19 L366.05 19 L366.55 19 L367.05 19 L367.55 19 L368.05 19 L368.55 19 L369.05 19 L369.55 19 L370.05 19 L370.55 19 L371.05 19 L371.55 19 L372.05 19 L372.55 19 L373.05 19 L373.55 19 L374.05 19 L374.55 19 L375.05 19 L375.55 19 L376.05 19 L376.55 19 L377.05 19 L377.55 19 L378.05 19 L378.55 19 L379.05 19 L379.55 19 L380.05 19 L380.55 19 L381.05 19 L381.55 19 L382.05 19 L382.55 19 L383.05 19 L383.55 19 L384.05 19 L384.55 19 L385.05 19 L385.55 19 L386.05 19 L386.55 19 L387.05 19 L387.55 19 L388.05 19 L388.55 19 L389.05 19 L389.55 19 L390.05 19 L390.55 19 L391.05 19 L391.55 19 L392.05 19 L392.55 19 L393.05 19 L393.55 19 L394.05 19 L394.55 19 L395.05 19 L395.55 19 L396.05 19 L396.55 19 L397.05 19 L397.55 19 L398.05 19 L398.55 19 L399.05 19 L399.55 19 L400.05 19 L400.55 19 L401.05 19 L401.55 19 L402.05 19 L402.55 19 L403.05 19 L403.55 19 L404.05 19 L404.55 19 L405.05 19 L405.55 19 L406.05 19 L406.55 19 L407.05 19 L407.55 19 L408.05 19 L408.55 19 L409.05 19 L409.55 19 L410.05 19 L410.55 19 L411.05 19 L411.55 19 L412.05 19 L412.55 19 L413.05 19 L413.55 19 L414.05 19 L414.55 19 L415.05 19 L415.55 19 L416.05 19 L416.55 19 L417.05 19 L417.55 19 L418.05 19 L418.55 19 L419.05 19 L419.55 19 L420.05 19 L420.55 19 L421.05 19 L421.55 19 L422.05 19 L422.55 19 L423.05 19 L423.55 19 L424.05 19 L424.55 19 L425.05 19 L425.55 19 L426.05 19 L426.55 19 L427.05 19 L427.55 19 L428.05 19 L428.55 19 L429.05 19 L429.55 19 L430.05 19 L430.55 19 L431.05 19 L431.55 19 L432.05 19 L432.55 19 L433.05 19 L433.55 19 L434.05 19 L434.55 19 L435.05 19 L435.55 19 L436.05 19 L436.55 19 L437.05 19 L437.55 19 L438.05 19 L438.55 19 L439.05 19 L439.55 19 L440.05 19 L440.55 19 L441.05 19 L441.55 19 L442.05 19 L442.55 19 L443.05 19 L443.55 19 L444.05 19 L444.55 19 L445.05 19 L445.55 19 L446.05 19 L446.55 19 L447.05 19 L447.55 19 L448.05 19 L448.55 19 L449.05 19 L449.55 19 L450.05 19 L450.55 19 L451.05 19 L451.55 19 L452.05 19 L452.55 19 L453.05 19 L453.55 19 L454.05 19 L454.55 19 L455.05 19 L455.55 19 L456.05 19 L456.55 19 L457.05 19 L457.55 19 L458.05 19 L458.55 19 L459.05 19 L459.55 19 L460.05 19 L460.55 19 L461.05 19 L461.55 19 L462.05 19 L462.55 19 L463.05 19 L463.55 19 L464.05 19 L464.55 19 L465.05 19 L465.55 19 L466.05 19 L466.55 19 L467.05 19 L467.55 19 L468.05 19 L468.55 19 L469.05 19 L469.55 19 L470.05 19 L470.55 19 L471.05 19 L471.55 19 L472.05 19 L472.55 19 L473.05 19 L473.55 19 L474.05 19 L474.55 19 L475.05 19 L475.21 19 L470.11 19 L469.95 19 L469.45 19 L468.95 19 L468.45 19 L467.95 19 L467.45 19 L466.95 19 L466.45 19 L465.95 19 L465.45 19 L464.95 19 L464.45 19 L463.95 19 L463.45 19 L462.95 19 L462.45 19 L461.95 19 L461.45 19 L460.95 19 L460.45 19 L459.95 19 L459.45 19 L458.95 19 L458.45 19 L457.95 19 L457.45 19 L456.95 19 L456.45 19 L455.95 19 L455.45 19 L454.95 19 L454.45 19 L453.95 19 L453.45 19 L452.95 19 L452.45 19 L451.95 19 L451.45 19 L450.95 19 L450.45 19 L449.95 19 L449.45 19 L448.95 19 L448.45 19 L447.95 19 L447.45 19 L446.95 19 L446.45 19 L445.95 19 L445.45 19 L444.95 19 L444.45 19 L443.95 19 L443.45 19 L442.95 19 L442.45 19 L441.95 19 L441.45 19 L440.95 19 L440.45 19 L439.95 19 L439.45 19 L438.95 19 L438.45 19 L437.95 19 L437.45 19 L436.95 19 L436.45 19 L435.95 19 L435.45 19 L434.95 19 L434.45 19 L433.95 19 L433.45 19 L432.95 19 L432.45 19 L431.95 19 L431.45 19 L430.95 19 L430.45 19 L429.95 19 L429.45 19 L428.95 19 L428.45 19 L427.95 19 L427.45 19 L426.95 19 L426.45 19 L425.95 19 L425.45 19 L424.95 19 L424.45 19 L423.95 19 L423.45 19 L422.95 19 L422.45 19 L421.95 19 L421.45 19 L420.95 19 L420.45 19 L419.95 19 L419.45 19 L418.95 19 L418.45 19 L417.95 19 L417.45 19 L416.95 19 L416.45 19 L415.95 19 L415.45 19 L414.95 19 L414.45 19 L413.95 19 L413.45 19 L412.95 19 L412.45 19 L411.95 19 L411.45 19 L410.95 19 L410.45 19 L409.95 19 L409.45 19 L408.95 19 L408.45 19 L407.95 19 L407.45 19 L406.95 19 L406.45 19 L405.95 19 L405.45 19 L404.95 19 L404.45 19 L403.95 19 L403.45 19 L402.95 19 L402.45 19 L401.95 19 L401.45 19 L400.95 19 L400.45 19 L399.95 19 L399.45 19 L398.95 19 L398.45 19 L397.95 19 L397.45 19 L396.95 19 L396.45 19 L395.95 19 L395.45 19 L394.95 19 L394.45 19 L393.95 19 L393.45 19 L392.95 19 L392.45 19 L391.95 19 L391.45 19 L390.95 19 L390.45 19 L389.95 19 L389.45 19 L388.95 19 L388.45 19 L387.95 19 L387.45 19 L386.95 19 L386.45 19 L385.95 19 L385.45 19 L384.95 19 L384.45 19 L383.95 19 L383.45 19 L382.95 19 L382.45 19 L381.95 19 L381.45 19 L380.95 19 L380.45 19 L379.95 19 L379.45 19 L378.95 19 L378.45 19 L377.95 19 L377.45 19 L376.95 19 L376.45 19 L375.95 19 L375.45 19 L374.95 19 L374.45 19 L373.95 19 L373.45 19 L372.95 19 L372.45 19 L371.95 19 L371.45 19 L370.95 19 L370.45 19 L369.95 19 L369.45 19 L368.95 19 L368.45 19 L367.95 19 L367.45 19 L366.95 19 L366.45 19 L365.95 19 L365.45 19 L364.95 19 L364.45 19 L363.95 19 L363.45 19 L362.95 19 L362.45 19 L361.95 19 L361.45 19 L360.95 19 L360.45 19 L359.95 19 L359.45 19 L358.95 19 L358.45 19 L357.95 19 L357.45 19 L356.95 19 L356.45 19 L355.95 19 L355.45 19 L354.95 19 L354.45 19 L353.95 19 L353.45 19 L352.95 19 L352.45 19 L351.95 19 L351.45 19 L350.95 19 L350.45 19 L349.95 19 L349.45 19 L348.95 19 L348.45 19 L347.95 19 L347.45 19 L346.95 19 L346.45 19 L345.95 19 L345.45 19 L344.95 19 L344.45 19 L343.95 19 L343.45 19 L342.95 19 L342.45 19 L341.95 19 L341.45 19 L340.95 19 L340.45 19 L339.95 19 L339.45 19 L338.95 19 L338.45 19 L337.95 19 L337.45 19 L336.95 19 L336.45 19 L335.95 19.01 L335.45 19.01 L334.95 19.02 L334.45 19.03 L333.95 19.03 L333.45 19.05 L332.95 19.06 L332.45 19.07 L331.95 19.08 L331.45 19.1 L330.95 19.13 L330.45 19.17 L329.95 19.23 L329.45 19.3 L328.95 19.38 L328.45 19.47 L327.95 19.57 L327.45 19.7 L326.95 19.85 L326.45 20.04 L325.95 20.26 L325.45 20.5 L324.95 20.77 L324.45 21.08 L323.95 21.43 L323.45 21.8Z" fill="#0000ff" stroke-linejoin="round"/>
<path d="M326 24.35 L326.5 23.98 L327 23.63 L327.5 23.32 L328 23.05 L328.5 22.81 L329 22.59 L329.5 22.4 L330 22.25 L330.5 22.12 L331 22.02 L331.5 21.93 L332 21.85 L332.5 21.78 L333 21.72 L333.5 21.68 L334 21.65 L334.5 21.63 L335 21.62 L335.5 21.61 L336 21.6 L336.5 21.58 L337 21.58 L337.5 21.57 L338 21.56 L338.5 21.56 L339 21.55 L339.5 21.55 L340 21.55 L340.5 21.55 L341 21.55 L341.5 21.55 L342 21.55 L342.5 21.55 L343 21.55 L343.5 21.55 L344 21.55 L344.5 21.55 L345 21.55 L345.5 21.55 L346 21.55 L346.5 21.55 L347 21.55 L347.5 21.55 L348 21.55 L348.5 21.55 L349 21.55 L349.5 21.55 L350 21.55 L350.5 21.55 L351 21.55 L351.5 21.55 L352 21.55 L352.5 21.55 L353 21.55 L353.5 21.55 L354 21.55 L354.5 21.55 L355 21.55 L355.5 21.55 L356 21.55 L356.5 21.55 L357 21.55 L357.5 21.55 L358 21.55 L358.5 21.55 L359 21.55 L359.5 21.55 L360 21.55 L360.5 21.55 L361 21.55 L361.5 21.55 L362 21.55 L362.5 21.55 L363 21.55 L363.5 21.55 L364 21.55 L364.5 21.55 L365 21.55 L365.5 21.55 L366 21.55 L366.5 21.55 L367 21.55 L367.5 21.55 L368 21.55 L368.5 21.55 L369 21.55 L369.5 21.55 L370 21.55 L370.5 21.55 L371 21.55 L371.5 21.55 L372 21.55 L372.5 21.55 L373 21.55 L373.5 21.55 L374 21.55 L374.5 21.55 L375 21.55 L375.5 21.55 L376 21.55 L376.5 21.55 L377 21.55 L377.5 21.55 L378 21.55 L378.5 21.55 L379 21.55 L379.5 21.55 L380 21.55 L380.5 21.55 L381 21.55 L381.5 21.55 L382 21.55 L382.5 21.55 L383 21.55 L383.5 21.55 L384 21.55 L384.5 21.55 L385 21.55 L385.5 21.55 L386 21.55 L386.5 21.55 L387 21.55 L387.5 21.55 L388 21.55 L388.5 21.55 L389 21.55 L389.5 21.55 L390 21.55 L390.5 21.55 L391 21.55 L391.5 21.55 L392 21.55 L392.5 21.55 L393 21.55 L393.5 21.55 L394 21.55 L394.5 21.55 L395 21.55 L395.5 21.55 L396 21.55 L396.5 21.55 L397 21.55 L397.5 21.55 L398 21.55 L398.5 21.55 L399 21.55 L399.5 21.55 L400 21.55 L400.5 21.55 L401 21.55 L401.5 21.55 L402 21.55 L402.5 21.55 L403 21.55 L403.5 21.55 L404 21.55 L404.5 21.55 L405 21.55 L405.5 21.55 L406 21.55 L406.5 21.55 L407 21.55 L407.5 21.55 L408 21.55 L408.5 21.55 L409 21.55 L409.5 21.55 L410 21.55 L410.5 21.55 L411 21.55 L411.5 21.55 L412 21.55 L412.5 21.55 L413 21.55 L413.5 21.55 L414 21.55 L414.5 21.55 L415 21.55 L415.5 21.55 L416 21.55 L416.5 21.55 L417 21.55 L417.5 21.55 L418 21.55 L418.5 21.55 L419 21.55 L419.5 21.55 L420 21.55 L420.5 21.55 L421 21.55 L421.5 21.55 L422 21.55 L422.5 21.55 L423 21.55 L423.5 21.55 L424 21.55 L424.5 21.55 L425 21.55 L425.5 21.55 L426 21.55 L426.5 21.55 L427 21.55 L427.5 21.55 L428 21.55 L428.5 21.55 L429 21.55 L429.5 21.55 L430 21.55 L430.5 21.55 L431 21.55 L431.5 21.55 L432 21.55 L432.5 21.55 L433 21.55 L433.5 21.55 L434 21.55 L434.5 21.55 L435 21.55 L435.5 21.55 L436 21.55 L436.5 21.55 L437 21.55 L437.5 21.55 L438 21.55 L438.5 21.55 L439 21.55 L439.5 21.55 L440 21.55 L440.5 21.55 L441 21.55 L441.5 21.55 L442 21.55 L442.5 21.55 L443 21.55 L443.5 21.55 L444 21.55 L444.5 21.55 L445 21.55 L445.5 21.55 L446 21.55 L446.5 21.55 L447 21.55 L447.5 21.55 L448 21.55 L448.5 21.55 L449 21.55 L449.5 21.55 L450 21.55 L450.5 21.55 L451 21.55 L451.5 21.55 L452 21.55 L452.5 21.55 L453 21.55 L453.5 21.55 L454 21.55 L454.5 21.55 L455 21.55 L455.5 21.55 L456 21.55 L456.5 21.55 L457 21.55 L457.5 21.55 L458 21.55 L458.5 21.55 L459 21.55 L459.5 21.55 L460 21.55 L460.5 21.55 L461 21.55 L461.5 21.55 L462 21.55 L462.5 21.55 L463 21.55 L463.5 21.55 L464 21.55 L464.5 21.55 L465 21.55 L465.5 21.55 L466 21.55 L466.5 21.55 L467 21.55 L467.5 21.55 L468 21.55 L468.5 21.55 L469 21.55 L469.5 21.55 L470 21.55 L470.5 21.55 L471 21.55 L471.5 21.55 L472 21.55 L472.5 21.55 L472.66 21.55 L472.66 16.45 L472.5 16.45 L472 16.45 L471.5 16.45 L471 16.45 L470.5 16.45 L470 16.45 L469.5 16.45 L469 16.45 L468.5 16.45 L468 16.45 L467.5 16.45 L467 16.45 L466.5 16.45 L466 16.45 L465.5 16.45 L465 16.45 L464.5 16.45 L464 16.45 L463.5 16.45 L463 16.45 L462.5 16.45 L462 16.45 L461.5 16.45 L461 16.45 L460.5 16.45 L460 16.45 L459.5 16.45 L459 16.45 L458.5 16.45 L458 16.45 L457.5 16.45 L457 16.45 L456.5 16.45 L456 16.45 L455.5 16.45 L455 16.45 L454.5 16.45 L454 16.45 L453.5 16.45 L453 16.45 L452.5 16.45 L452 16.45 L451.5 16.45 L451 16.45 L450.5 16.45 L450 16.45 L449.5 16.45 L449 16.45 L448.5 16.45 L448 16.45 L447.5 16.45 L447 16.45 L446.5 16.45 L446 16.45 L445.5 16.45 L445 16.45 L444.5 16.45 L444 16.45 L443.5 16.45 L443 16.45 L442.5 16.45 L442 16.45 L441.5 16.45 L441 16.45 L440.5 16.45 L440 16.45 L439.5 16.45 L439 16.45 L438.5 16.45 L438 16.45 L437.5 16.45 L437 16.45 L436.5 16.45 L436 16.45 L435.5 16.45 L435 16.45 L434.5 16.45 L434 16.45 L433.5 16.45 L433 16.45 L432.5 16.45 L432 16.45 L431.5 16.45 L431 16.45 L430.5 16.45 L430 16.45 L429.5 16.45 L429 16.45 L428.5 16.45 L428 16.45 L427.5 16.45 L427 16.45 L426.5 16.45 L426 16.45 L425.5 16.45 L425 16.45 L424.5 16.45 L424 16.45 L423.5 16.45 L423 16.45 L422.5 16.45 L422 16.45 L421.5 16.45 L421 16.45 L420.5 16.45 L420 16.45 L419.5 16.45 L419 16.45 L418.5 16.45 L418 16.45 L417.5 16.45 L417 16.45 L416.5 16.45 L416 16.45 L415.5 16.45 L415 16.45 L414.5 16.45 L414 16.45 L413.5 16.45 L413 16.45 L412.5 16.45 L412 16.45 L411.5 16.45 L411 16.45 L410.5 16.45 L410 16.45 L409.5 16.45 L409 16.45 L408.5 16.45 L408 16.45 L407.5 16.45 L407 16.45 L406.5 16.45 L406 16.45 L405.5 16.45 L405 16.45 L404.5 16.45 L404 16.45 L403.5 16.45 L403 16.45 L402.5 16.45 L402 16.45 L401.5 16.45 L401 16.45 L400.5 16.45 L400 16.45 L399.5 16.45 L399 16.45 L398.5 16.45 L398 16.45 L397.5 16.45 L397 16.45 L396.5 16.45 L396 16.45 L395.5 16.45 L395 16.45 L394.5 16.45 L394 16.45 L393.5 16.45 L393 16.45 L392.5 16.45 L392 16.45 L391.5 16.45 L391 16.45 L390.5 16.45 L390 16.45 L389.5 16.45 L389 16.45 L388.5 16.45 L388 16.45 L387.5 16.45 L387 16.45 L386.5 16.45 L386 16.45 L385.5 16.45 L385 16.45 L384.5 16.45 L384 16.45 L383.5 16.45 L383 16.45 L382.5 16.45 L382 16.45 L381.5 16.45 L381 16.45 L380.5 16.45 L380 16.45 L379.5 16.45 L379 16.45 L378.5 16.45 L378 16.45 L377.5 16.45 L377 16.45 L376.5 16.45 L376 16.45 L375.5 16.45 L375 16.45 L374.5 16.45 L374 16.45 L373.5 16.45 L373 16.45 L372.5 16.45 L372 16.45 L371.5 16.45 L371 16.45 L370.5 16.45 L370 16.45 L369.5 16.45 L369 16.45 L368.5 16.45 L368 16.45 L367.5 16.45 L367 16.45 L366.5 16.45 L366 16.45 L365.5 16.45 L365 16.45 L364.5 16.45 L364 16.45 L363.5 16.45 L363 16.45 L362.5 16.45 L362 16.45 L361.5 16.45 L361 16.45 L360.5 16.45 L360 16.45 L359.5 16.45 L359 16.45 L358.5 16.45 L358 16.45 L357.5 16.45 L357 16.45 L356.5 16.45 L356 16.45 L355.5 16.45 L355 16.45 L354.5 16.45 L354 16.45 L353.5 16.45 L353 16.45 L352.5 16.45 L352 16.45 L351.5 16.45 L351 16.45 L350.5 16.45 L350 16.45 L349.5 16.45 L349 16.45 L348.5 16.45 L348 16.45 L347.5 16.45 L347 16.45 L346.5 16.45 L346 16.45 L345.5 16.45 L345 16.45 L344.5 16.45 L344 16.45 L343.5 16.45 L343 16.45 L342.5 16.45 L342 16.45 L341.5 16.45 L341 16.45 L340.5 16.45 L340 16.45 L339.5 16.45 L339 16.45 L338.5 16.46 L338 16.46 L337.5 16.47 L337 16.48 L336.5 16.48 L336 16.5 L335.5 16.51 L335 16.52 L334.5 16.53 L334 16.55 L333.5 16.58 L333 16.62 L332.5 16.68 L332 16.75 L331.5 16.82 L331 16.92 L330.5 17.02 L330 17.15 L329.5 17.3 L329 17.49 L328.5 17.71 L328 17.95 L327.5 18.22 L327 18.53 L326.5 18.88 L326 19.25Z" fill="#0000ff" stroke-linejoin="round"/>
<path d="M328.55 24.35 L329.05 23.98 L329.55 23.63 L330.05 23.32 L330.55 23.05 L331.05 22.81 L331.55 22.59 L332.05 22.4 L332.55 22.25 L333.05 22.12 L333.55 22.02 L334.05 21.93 L334.55 21.85 L335.05 21.78 L335.55 21.72 L336.05 21.68 L336.55 21.65 L337.05 21.63 L337.55 21.62 L338.05 21.61 L338.55 21.6 L339.05 21.58 L339.55 21.58 L340.05 21.57 L340.55 21.56 L341.05 21.56 L341.55 21.55 L342.05 21.55 L342.55 21.55 L343.05 21.55 L343.55 21.55 L344.05 21.55 L344.55 21.55 L345.05 21.55 L345.55 21.55 L346.05 21.55 L346.55 21.55 L347.05 21.55 L347.55 21.55 L348.05 21.55 L348.55 21.55 L349.05 21.55 L349.55 21.55 L350.05 21.55 L350.55 21.55 L351.05 21.55 L351.55 21.55 L352.05 21.55 L352.55 21.55 L353.05 21.55 L353.55 21.55 L354.05 21.55 L354.55 21.55 L355.05 21.55 L355.55 21.55 L356.05 21.55 L356.55 21.55 L357.05 21.55 L357.55 21.55 L358.05 21.55 L358.55 21.55 L359.05 21.55 L359.55 21.55 L360.05 21.55 L360.55 21.55 L361.05 21.55 L361.55 21.55 L362.05 21.55 L362.55 21.55 L363.05 21.55 L363.55 21.55 L364.05 21.55 L364.55 21.55 L365.05 21.55 L365.55 21.55 L366.05 21.55 L366.55 21.55 L367.05 21.55 L367.55 21.55 L368.05 21.55 L368.55 21.55 L369.05 21.55 L369.55 21.55 L370.05 21.55 L370.55 21.55 L371.05 21.55 L371.55 21.55 L372.05 21.55 L372.55 21.55 L373.05 21.55 L373.55 21.55 L374.05 21.55 L374.55 21.55 L375.05 21.55 L375.55 21.55 L376.05 21.55 L376.55 21.55 L377.05 21.55 L377.55 21.55 L378.05 21.55 L378.55 21.55 L379.05 21.55 L379.55 21.55 L380.05 21.55 L380.55 21.55 L381.05 21.55 L381.55 21.55 L382.05 21.55 L382.55 21.55 L383.05 21.55 L383.55 21.55 L384.05 21.55 L384.55 21.55 L385.05 21.55 L385.55 21.55 L386.05 21.55 L386.55 21.55 L387.05 21.55 L387.55 21.55 L388.05 21.55 L388.55 21.55 L389.05 21.55 L389.55 21.55 L390.05 21.55 L390.55 21.55 L391.05 21.55 L391.55 21.55 L392.05 21.55 L392.55 21.55 L393.05 21.55 L393.55 21.55 L394.05 21.55 L394.55 21.55 L395.05 21.55 L395.55 21.55 L396.05 21.55 L396.55 21.55 L397.05 21.55 L397.55 21.55 L398.05 21.55 L398.55 21.55 L399.05 21.55 L399.55 21.55 L400.05 21.55 L400.55 21.55 L401.05 21.55 L401.55 21.55 L402.05 21.55 L402.55 21.55 L403.05 21.55 L403.55 21.55 L404.05 21.55 L404.55 21.55 L405.05 21.55 L405.55 21.55 L406.05 21.55 L406.55 21.55 L407.05 21.55 L407.55 21.55 L408.05 21.55 L408.55 21.55 L409.05 21.55 L409.55 21.55 L410.05 21.55 L410.55 21.55 L411.05 21.55 L411.55 21.55 L412.05 21.55 L412.55 21.55 L413.05 21.55 L413.55 21.55 L414.05 21.55 L414.55 21.55 L415.05 21.55 L415.55 21.55 L416.05 21.55 L416.55 21.55 L417.05 21.55 L417.55 21.55 L418.05 21.55 L418.55 21.55 L419.05 21.55 L419.55 21.55 L420.05 21.55 L420.55 21.55 L421.05 21.55 L421.55 21.55 L422.05 21.55 L422.55 21.55 L423.05 21.55 L423.55 21.55 L424.05 21.55 L424.55 21.55 L425.05 21.55 L425.55 21.55 L426.05 21.55 L426.55 21.55 L427.05 21.55 L427.55 21.55 L428.05 21.55 L428.55 21.55 L429.05 21.55 L429.55 21.55 L430.05 21.55 L430.55 21.55 L431.05 21.55 L431.55 21.55 L432.05 21.55 L432.55 21.55 L433.05 21.55 L433.55 21.55 L434.05 21.55 L434.55 21.55 L435.05 21.55 L435.55 21.55 L436.05 21.55 L436.55 21.55 L437.05 21.55 L437.55 21.55 L438.05 21.55 L438.55 21.55 L439.05 21.55 L439.55 21.55 L440.05 21.55 L440.55 21.55 L441.05 21.55 L441.55 21.55 L442.05 21.55 L442.55 21.55 L443.05 21.55 L443.55 21.55 L444.05 21.55 L444.55 21.55 L445.05 21.55 L445.55 21.55 L446.05 21.55 L446.55 21.55 L447.05 21.55 L447.55 21.55 L448.05 21.55 L448.55 21.55 L449.05 21.55 L449.55 21.55 L450.05 21.55 L450.55 21.55 L451.05 21.55 L451.55 21.55 L452.05 21.55 L452.55 21.55 L453.05 21.55 L453.55 21.55 L454.05 21.55 L454.55 21.55 L455.05 21.55 L455.55 21.55 L456.05 21.55 L456.55 21.55 L457.05 21.55 L457.55 21.55 L458.05 21.55 L458.55 21.55 L459.05 21.55 L459.55 21.55 L460.05 21.55 L460.55 21.55 L461.05 21.55 L461.55 21.55 L462.05 21.55 L462.55 21.55 L463.05 21.55 L463.55 21.55 L464.05 21.55 L464.55 21.55 L465.05 21.55 L465.55 21.55 L466.05 21.55 L466.55 21.55 L467.05 21.55 L467.55 21.55 L468.05 21.55 L468.55 21.55 L469.05 21.55 L469.55 21.55 L470.05 21.55 L470.55 21.55 L471.05 21.55 L471.55 21.55 L472.05 21.55 L472.55 21.55 L473.05 21.55 L473.55 21.55 L474.05 21.55 L474.55 21.55 L475.05 21.55 L475.21 21.55 L470.11 16.45 L469.95 16.45 L469.45 16.45 L468.95 16.45 L468.45 16.45 L467.95 16.45 L467.45 16.45 L466.95 16.45 L466.45 16.45 L465.95 16.45 L465.45 16.45 L464.95 16.45 L464.45 16.45 L463.95 16.45 L463.45 16.45 L462.95 16.45 L462.45 16.45 L461.95 16.45 L461.45 16.45 L460.95 16.45 L460.45 16.45 L459.95 16.45 L459.45 16.45 L458.95 16.45 L458.45 16.45 L457.95 16.45 L457.45 16.45 L456.95 16.45 L456.45 16.45 L455.95 16.45 L455.45 16.45 L454.95 16.45 L454.45 16.45 L453.95 16.45 L453.45 16.45 L452.95 16.45 L452.45 16.45 L451.95 16.45 L451.45 16.45 L450.95 16.45 L450.45 16.45 L449.95 16.45 L449.45 16.45 L448.95 16.45 L448.45 16.45 L447.95 16.45 L447.45 16.45 L446.95 16.45 L446.45 16.45 L445.95 16.45 L445.45 16.45 L444.95 16.45 L444.45 16.45 L443.95 16.45 L443.45 16.45 L442.95 16.45 L442.45 16.45 L441.95 16.45 L441.45 16.45 L440.95 16.45 L440.45 16.45 L439.95 16.45 L439.45 16.45 L438.95 16.45 L438.45 16.45 L437.95 16.45 L437.45 16.45 L436.95 16.45 L436.45 16.45 L435.95 16.45 L435.45 16.45 L434.95 16.45 L434.45 16.45 L433.95 16.45 L433.45 16.45 L432.95 16.45 L432.45 16.45 L431.95 16.45 L431.45 16.45 L430.95 16.45 L430.45 16.45 L429.95 16.45 L429.45 16.45 L428.95 16.45 L428.45 16.45 L427.95 16.45 L427.45 16.45 L426.95 16.45 L426.45 16.45 L425.95 16.45 L425.45 16.45 L424.95 16.45 L424.45 16.45 L423.95 16.45 L423.45 16.45 L422.95 16.45 L422.45 16.45 L421.95 16.45 L421.45 16.45 L420.95 16.45 L420.45 16.45 L419.95 16.45 L419.45 16.45 L418.95 16.45 L418.45 16.45 L417.95 16.45 L417.45 16.45 L416.95 16.45 L416.45 16.45 L415.95 16.45 L415.45 16.45 L414.95 16.45 L414.45 16.45 L413.95 16.45 L413.45 16.45 L412.95 16.45 L412.45 16.45 L411.95 16.45 L411.45 16.45 L410.95 16.45 L410.45 16.45 L409.95 16.45 L409.45 16.45 L408.95 16.45 L408.45 16.45 L407.95 16.45 L407.45 16.45 L406.95 16.45 L406.45 16.45 L405.95 16.45 L405.45 16.45 L404.95 16.45 L404.45 16.45 L403.95 16.45 L403.45 16.45 L402.95 16.45 L402.45 16.45 L401.95 16.45 L401.45 16.45 L400.95 16.45 L400.45 16.45 L399.95 16.45 L399.45 16.45 L398.95 16.45 L398.45 16.45 L397.95 16.45 L397.45 16.45 L396.95 16.45 L396.45 16.45 L395.95 16.45 L395.45 16.45 L394.95 16.45 L394.45 16.45 L393.95 16.45 L393.45 16.45 L392.95 16.45 L392.45 16.45 L391.95 16.45 L391.45 16.45 L390.95 16.45 L390.45 16.45 L389.95 16.45 L389.45 16.45 L388.95 16.45 L388.45 16.45 L387.95 16.45 L387.45 16.45 L386.95 16.45 L386.45 16.45 L385.95 16.45 L385.45 16.45 L384.95 16.45 L384.45 16.45 L383.95 16.45 L383.45 16.45 L382.95 16.45 L382.45 16.45 L381.95 16.45 L381.45 16.45 L380.95 16.45 L380.45 16.45 L379.95 16.45 L379.45 16.45 L378.95 16.45 L378.45 16.45 L377.95 16.45 L377.45 16.45 L376.95 16.45 L376.45 16.45 L375.95 16.45 L375.45 16.45 L374.95 16.45 L374.45 16.45 L373.95 16.45 L373.45 16.45 L372.95 16.45 L372.45 16.45 L371.95 16.45 L371.45 16.45 L370.95 16.45 L370.45 16.45 L369.95 16.45 L369.45 16.45 L368.95 16.45 L368.45 16.45 L367.95 16.45 L367.45 16.45 L366.95 16.45 L366.45 16.45 L365.95 16.45 L365.45 16.45 L364.95 16.45 L364.45 16.45 L363.95 16.45 L363.45 16.45 L362.95 16.45 L362.45 16.45 L361.95 16.45 L361.45 16.45 L360.95 16.45 L360.45 16.45 L359.95 16.45 L359.45 16.45 L358.95 16.45 L358.45 16.45 L357.95 16.45 L357.45 16.45 L356.95 16.45 L356.45 16.45 L355.95 16.45 L355.45 16.45 L354.95 16.45 L354.45 16.45 L353.95 16.45 L353.45 16.45 L352.95 16.45 L352.45 16.45 L351.95 16.45 L351.45 16.45 L350.95 16.45 L350.45 16.45 L349.95 16.45 L349.45 16.45 L348.95 16.45 L348.45 16.45 L347.95 16.45 L347.45 16.45 L346.95 16.45 L346.45 16.45 L345.95 16.45 L345.45 16.45 L344.95 16.45 L344.45 16.45 L343.95 16.45 L343.45 16.45 L342.95 16.45 L342.45 16.45 L341.95 16.45 L341.45 16.45 L340.95 16.45 L340.45 16.45 L339.95 16.45 L339.45 16.45 L338.95 16.45 L338.45 16.45 L337.95 16.45 L337.45 16.45 L336.95 16.45 L336.45 16.45 L335.95 16.46 L335.45 16.46 L334.95 16.47 L334.45 16.48 L333.95 16.48 L333.45 16.5 L332.95 16.51 L332.45 16.52 L331.95 16.53 L331.45 16.55 L330.95 16.58 L330.45 16.62 L329.95 16.68 L329.45 16.75 L328.95 16.82 L328.45 16.92 L327.95 17.02 L327.45 17.15 L326.95 17.3 L326.45 17.49 L325.95 17.71 L325.45 17.95 L324.95 18.22 L324.45 18.53 L323.95 18.88 L323.45 19.25Z" fill="#0000ff" stroke-linejoin="round"/>
<path d="M328.55 19.25 L329.05 18.88 L329.55 18.53 L330.05 18.22 L330.55 17.95 L331.05 17.71 L331.55 17.49 L332.05 17.3 L332.55 17.15 L333.05 17.02 L333.55 16.92 L334.05 16.82 L334.55 16.75 L335.05 16.68 L335.55 16.62 L336.05 16.58 L336.55 16.55 L337.05 16.53 L337.55 16.52 L338.05 16.51 L338.55 16.5 L339.05 16.48 L339.55 16.48 L340.05 16.47 L340.55 16.46 L341.05 16.46 L341.55 16.45 L342.05 16.45 L342.55 16.45 L343.05 16.45 L343.55 16.45 L344.05 16.45 L344.55 16.45 L345.05 16.45 L345.55 16.45 L346.05 16.45 L346.55 16.45 L347.05 16.45 L347.55 16.45 L348.05 16.45 L348.55 16.45 L349.05 16.45 L349.55 16.45 L350.05 16.45 L350.55 16.45 L351.05 16.45 L351.55 16.45 L352.05 16.45 L352.55 16.45 L353.05 16.45 L353.55 16.45 L354.05 16.45 L354.55 16.45 L355.05 16.45 L355.55 16.45 L356.05 16.45 L356.55 16.45 L357.05 16.45 L357.55 16.45 L358.05 16.45 L358.55 16.45 L359.05 16.45 L359.55 16.45 L360.05 16.45 L360.55 16.45 L361.05 16.45 L361.55 16.45 L362.05 16.45 L362.55 16.45 L363.05 16.45 L363.55 16.45 L364.05 16.45 L364.55 16.45 L365.05 16.45 L365.55 16.45 L366.05 16.45 L366.55 16.45 L367.05 16.45 L367.55 16.45 L368.05 16.45 L368.55 16.45 L369.05 16.45 L369.55 16.45 L370.05 16.45 L370.55 16.45 L371.05 16.45 L371.55 16.45 L372.05 16.45 L372.55 16.45 L373.05 16.45 L373.55 16.45 L374.05 16.45 L374.55 16.45 L375.05 16.45 L375.55 16.45 L376.05 16.45 L376.55 16.45 L377.05 16.45 L377.55 16.45 L378.05 16.45 L378.55 16.45 L379.05 16.45 L379.55 16.45 L380.05 16.45 L380.55 16.45 L381.05 16.45 L381.55 16.45 L382.05 16.45 L382.55 16.45 L383.05 16.45 L383.55 16.45 L384.05 16.45 L384.55 16.45 L385.05 16.45 L385.55 16.45 L386.05 16.45 L386.55 16.45 L387.05 16.45 L387.55 16.45 L388.05 16.45 L388.55 16.45 L389.05 16.45 L389.55 16.45 L390.05 16.45 L390.55 16.45 L391.05 16.45 L391.55 16.45 L392.05 16.45 L392.55 16.45 L393.05 16.45 L393.55 16.45 L394.05 16.45 L394.55 16.45 L395.05 16.45 L395.55 16.45 L396.05 16.45 L396.55 16.45 L397.05 16.45 L397.55 16.45 L398.05 16.45 L398.55 16.45 L399.05 16.45 L399.55 16.45 L400.05 16.45 L400.55 16.45 L401.05 16.45 L401.55 16.45 L402.05 16.45 L402.55 16.45 L403.05 16.45 L403.55 16.45 L404.05 16.45 L404.55 16.45 L405.05 16.45 L405.55 16.45 L406.05 16.45 L406.55 16.45 L407.05 16.45 L407.55 16.45 L408.05 16.45 L408.55 16.45 L409.05 16.45 L409.55 16.45 L410.05 16.45 L410.55 16.45 L411.05 16.45 L411.55 16.45 L412.05 16.45 L412.55 16.45 L413.05 16.45 L413.55 16.45 L414.05 16.45 L414.55 16.45 L415.05 16.45 L415.55 16.45 L416.05 16.45 L416.55 16.45 L417.05 16.45 L417.55 16.45 L418.05 16.45 L418.55 16.45 L419.05 16.45 L419.55 16.45 L420.05 16.45 L420.55 16.45 L421.05 16.45 L421.55 16.45 L422.05 16.45 L422.55 16.45 L423.05 16.45 L423.55 16.45 L424.05 16.45 L424.55 16.45 L425.05 16.45 L425.55 16.45 L426.05 16.45 L426.55 16.45 L427.05 16.45 L427.55 16.45 L428.05 16.45 L428.55 16.45 L429.05 16.45 L429.55 16.45 L430.05 16.45 L430.55 16.45 L431.05 16.45 L431.55 16.45 L432.05 16.45 L432.55 16.45 L433.05 16.45 L433.55 16.45 L434.05 16.45 L434.55 16.45 L435.05 16.45 L435.55 16.45 L436.05 16.45 L436.55 16.45 L437.05 16.45 L437.55 16.45 L438.05 16.45 L438.55 16.45 L439.05 16.45 L439.55 16.45 L440.05 16.45 L440.55 16.45 L441.05 16.45 L441.55 16.45 L442.05 16.45 L442.55 16.45 L443.05 16.45 L443.55 16.45 L444.05 16.45 L444.55 16.45 L445.05 16.45 L445.55 16.45 L446.05 16.45 L446.55 16.45 L447.05 16.45 L447.55 16.45 L448.05 16.45 L448.55 16.45 L449.05 16.45 L449.55 16.45 L450.05 16.45 L450.55 16.45 L451.05 16.45 L451.55 16.45 L452.05 16.45 L452.55 16.45 L453.05 16.45 L453.55 16.45 L454.05 16.45 L454.55 16.45 L455.05 16.45 L455.55 16.45 L456.05 16.45 L456.55 16.45 L457.05 16.45 L457.55 16.45 L458.05 16.45 L458.55 16.45 L459.05 16.45 L459.55 16.45 L460.05 16.45 L460.55 16.45 L461.05 16.45 L461.55 16.45 L462.05 16.45 L462.55 16.45 L463.05 16.45 L463.55 16.45 L464.05 16.45 L464.55 16.45 L465.05 16.45 L465.55 16.45 L466.05 16.45 L466.55 16.45 L467.05 16.45 L467.55 16.45 L468.05 16.45 L468.55 16.45 L469.05 16.45 L469.55 16.45 L470.05 16.45 L470.55 16.45 L471.05 16.45 L471.55 16.45 L472.05 16.45 L472.55 16.45 L473.05 16.45 L473.55 16.45 L474.05 16.45 L474.55 16.45 L475.05 16.45 L475.21 16.45 L470.11 21.55 L469.95 21.55 L469.45 21.55 L468.95 21.55 L468.45 21.55 L467.95 21.55 L467.45 21.55 L466.95 21.55 L466.45 21.55 L465.95 21.55 L465.45 21.55 L464.95 21.55 L464.45 21.55 L463.95 21.55 L463.45 21.55 L462.95 21.55 L462.45 21.55 L461.95 21.55 L461.45 21.55 L460.95 21.55 L460.45 21.55 L459.95 21.55 L459.45 21.55 L458.95 21.55 L458.45 21.55 L457.95 21.55 L457.45 21.55 L456.95 21.55 L456.45 21.55 L455.95 21.55 L455.45 21.55 L454.95 21.55 L454.45 21.55 L453.95 21.55 L453.45 21.55 L452.95 21.55 L452.45 21.55 L451.95 21.55 L451.45 21.55 L450.95 21.55 L450.45 21.55 L449.95 21.55 L449.45 21.55 L448.95 21.55 L448.45 21.55 L447.95 21.55 L447.45 21.55 L446.95 21.55 L446.45 21.55 L445.95 21.55 L445.45 21.55 L444.95 21.55 L444.45 21.55 L443.95 21.55 L443.45 21.55 L442.95 21.55 L442.45 21.55 L441.95 21.55 L441.45 21.55 L440.95 21.55 L440.45 21.55 L439.95 21.55 L439.45 21.55 L438.95 21.55 L438.45 21.55 L437.95 21.55 L437.45 21.55 L436.95 21.55 L436.45 21.55 L435.95 21.55 L435.45 21.55 L434.95 21.55 L434.45 21.55 L433.95 21.55 L433.45 21.55 L432.95 21.55 L432.45 21.55 L431.95 21.55 L431.45 21.55 L430.95 21.55 L430.45 21.55 L429.95 21.55 L429.45 21.55 L428.95 21.55 L428.45 21.55 L427.95 21.55 L427.45 21.55 L426.95 21.55 L426.45 21.55 L425.95 21.55 L425.45 21.55 L424.95 21.55 L424.45 21.55 L423.95 21.55 L423.45 21.55 L422.95 21.55 L422.45 21.55 L421.95 21.55 L421.45 21.55 L420.95 21.55 L420.45 21.55 L419.95 21.55 L419.45 21.55 L418.95 21.55 L418.45 21.55 L417.95 21.55 L417.45 21.55 L416.95 21.55 L416.45 21.55 L415.95 21.55 L415.45 21.55 L414.95 21.55 L414.45 21.55 L413.95 21.55 L413.45 21.55 L412.95 21.55 L412.45 21.55 L411.95 21.55 L411.45 21.55 L410.95 21.55 L410.45 21.55 L409.95 21.55 L409.45 21.55 L408.95 21.55 L408.45 21.55 L407.95 21.55 L407.45 21.55 L406.95 21.55 L406.45 21.55 L405.95 21.55 L405.45 21.55 L404.95 21.55 L404.45 21.55 L403.95 21.55 L403.45 21.55 L402.95 21.55 L402.45 21.55 L401.95 21.55 L401.45 21.55 L400.95 21.55 L400.45 21.55 L399.95 21.55 L399.45 21.55 L398.95 21.55 L398.45 21.55 L397.95 21.55 L397.45 21.55 L396.95 21.55 L396.45 21.55 L395.95 21.55 L395.45 21.55 L394.95 21.55 L394.45 21.55 L393.95 21.55 L393.45 21.55 L392.95 21.55 L392.45 21.55 L391.95 21.55 L391.45 21.55 L390.95 21.55 L390.45 21.55 L389.95 21.55 L389.45 21.55 L388.95 21.55 L388.45 21.55 L387.95 21.55 L387.45 21.55 L386.95 21.55 L386.45 21.55 L385.95 21.55 L385.45 21.55 L384.95 21.55 L384.45 21.55 L383.95 21.55 L383.45 21.55 L382.95 21.55 L382.45 21.55 L381.95 21.55 L381.45 21.55 L380.95 21.55 L380.45 21.55 L379.95 21.55 L379.45 21.55 L378.95 21.55 L378.45 21.55 L377.95 21.55 L377.45 21.55 L376.95 21.55 L376.45 21.55 L375.95 21.55 L375.45 21.55 L374.95 21.55 L374.45 21.55 L373.95 21.55 L373.45 21.55 L372.95 21.55 L372.45 21.55 L371.95 21.55 L371.45 21.55 L370.95 21.55 L370.45 21.55 L369.95 21.55 L369.45 21.55 L368.95 21.55 L368.45 21.55 L367.95 21.55 L367.45 21.55 L366.95 21.55 L366.45 21.55 L365.95 21.55 L365.45 21.55 L364.95 21.55 L364.45 21.55 L363.95 21.55 L363.45 21.55 L362.95 21.55 L362.45 21.55 L361.95 21.55 L361.45 21.55 L360.95 21.55 L360.45 21.55 L359.95 21.55 L359.45 21.55 L358.95 21.55 L358.45 21.55 L357.95 21.55 L357.45 21.55 L356.95 21.55 L356.45 21.55 L355.95 21.55 L355.45 21.55 L354.95 21.55 L354.45 21.55 L353.95 21.55 L353.45 21.55 L352.95 21.55 L352.45 21.55 L351.95 21.55 L351.45 21.55 L350.95 21.55 L350.45 21.55 L349.95 21.55 L349.45 21.55 L348.95 21.55 L348.45 21.55 L347.95 21.55 L347.45 21.55 L346.95 21.55 L346.45 21.55 L345.95 21.55 L345.45 21.55 L344.95 21.55 L344.45 21.55 L343.95 21.55 L343.45 21.55 L342.95 21.55 L342.45 21.55 L341.95 21.55 L341.45 21.55 L340.95 21.55 L340.45 21.55 L339.95 21.55 L339.45 21.55 L338.95 21.55 L338.45 21.55 L337.95 21.55 L337.45 21.55 L336.95 21.55 L336.45 21.55 L335.95 21.56 L335.45 21.56 L334.95 21.57 L334.45 21.58 L333.95 21.58 L333.45 21.6 L332.95 21.61 L332.45 21.62 L331.95 21.63 L331.45 21.65 L330.95 21.68 L330.45 21.72 L329.95 21.78 L329.45 21.85 L328.95 21.93 L328.45 22.02 L327.95 22.12 L327.45 22.25 L326.95 22.4 L326.45 22.59 L325.95 22.81 L325.45 23.05 L324.95 23.32 L324.45 23.63 L323.95 23.98 L323.45 24.35Z" fill="#0000ff" stroke-linejoin="round"/>
</g>

<g stroke="#ff00ff" fill="none" stroke-width="0.58">
<path d="M142.89 286.2 L244.71 289 L260.04 284 L269.01 273.6 L275.37 262.6 L280.3 251 L284.33 239 L287.74 225 L290.69 209.6 L293.3 194 L295.63 181 L297.74 168.5 L299.66 156 L301.43 142 L303.07 131 L304.59 123 L306.02 115 L307.36 108.5 L308.63 102.5 L309.82 95.5 L310.96 89.3 L312.03 84.5 L313.06 80 L314.05 75.5 L314.99 71.5 L315.89 67.5 L316.76 64 L317.59 61.5 L318.4 58.7 L319.17 56.59 L319.92 54.7 L320.65 52.82 L321.35 51.07 L322.03 49.64 L322.69 48.44 L323.33 47.46 L323.95 46.64 L324.56 45.97 L325.15 45.5 L325.72 45.16 L326.28 44.88 L326.83 44.66 L327.36 44.47 L327.88 44.3 L328.39 44.17 L328.89 44.07 L329.37 44 L329.85 43.95 L330.31 43.91 L330.77 43.87 L331.22 43.84 L331.65 43.82 L332.08 43.8 L332.5 43.78 L332.92 43.77 L333.32 43.75 L333.72 43.74 L334.11 43.73 L334.5 43.72 L334.88 43.71 L335.25 43.7 L335.61 43.7 L335.97 43.7 L336.33 43.7 L336.67 43.7 L337.02 43.7 L337.35 43.7 L337.69 43.7 L338.01 43.7 L338.34 43.7 L338.66 43.7 L338.97 43.7 L339.28 43.7 L339.58 43.7 L339.88 43.7 L340.47 43.7 L341.05 43.7 L341.61 43.7 L342.15 43.7 L342.69 43.7 L343.21 43.7 L343.72 43.7 L344.21 43.7 L344.7 43.7 L345.17 43.7 L345.64 43.7 L346.1 43.7 L346.54 43.7 L346.98 43.7 L347.41 43.7 L347.83 43.7 L348.24 43.7 L348.65 43.7 L349.05 43.7 L349.44 43.7 L349.82 43.7 L350.2 43.7 L350.57 43.7 L350.94 43.7 L351.3 43.7 L351.65 43.7 L352 43.7 L352.34 43.7 L352.68 43.7 L353.01 43.7 L353.34 43.7 L353.66 43.7 L353.98 43.7 L354.3 43.7 L354.61 43.7 L354.91 43.7 L355.21 43.7 L355.66 43.7 L356.09 43.7 L356.52 43.7 L356.94 43.7 L357.35 43.7 L357.75 43.7 L358.15 43.7 L358.53 43.7 L358.92 43.7 L359.29 43.7 L359.66 43.7 L360.03 43.7 L360.38 43.7 L360.74 43.7 L361.08 43.7 L361.42 43.7 L361.76 43.7 L362.09 43.7 L362.42 43.7 L362.74 43.7 L363.05 43.7 L363.37 43.7 L363.67 43.7 L363.98 43.7 L364.38 43.7 L364.77 43.7 L365.15 43.7 L365.53 43.7 L365.9 43.7 L366.27 43.7 L366.63 43.7 L366.98 43.7 L367.33 43.7 L367.67 43.7 L368.01 43.7 L368.34 43.7 L368.67 43.7 L368.99 43.7 L369.31 43.7 L369.62 43.7 L369.93 43.7 L370.24 43.7 L370.54 43.7 L370.91 43.7 L371.27 43.7 L371.63 43.7 L371.98 43.7 L372.33 43.7 L372.67 43.7 L373.01 43.7 L373.34 43.7 L373.67 43.7 L373.99 43.7 L374.31 43.7 L374.62 43.7 L374.93 43.7 L375.23 43.7 L375.53 43.7 L375.89 43.7 L376.24 43.7 L376.58 43.7 L376.92 43.7 L377.25 43.7 L377.58 43.7 L377.9 43.7 L378.22 43.7 L378.54 43.7 L378.85 43.7 L379.15 43.7 L379.45 43.7 L379.8 43.7 L380.14 43.7 L380.48 43.7 L380.81 43.7 L381.14 43.7 L381.46 43.7 L381.77 43.7 L382.09 43.7 L382.39 43.7 L382.7 43.7 L383.04 43.7 L383.38 43.7 L383.71 43.7 L384.04 43.7 L384.36 43.7 L384.68 43.7 L384.99 43.7 L385.3 43.7 L385.6 43.7 L385.9 43.7 L386.24 43.7 L386.56 43.7 L386.89 43.7 L387.21 43.7 L387.52 43.7 L387.83 43.7 L388.13 43.7 L388.44 43.7 L388.77 43.7 L389.09 43.7 L389.41 43.7 L389.73 43.7 L390.04 43.7 L390.35 43.7 L390.65 43.7 L390.98 43.7 L391.3 43.7 L391.62 43.7 L391.93 43.7 L392.24 43.7 L392.55 43.7 L392.85 43.7 L393.18 43.7 L393.5 43.7 L393.81 43.7 L394.12 43.7 L394.43 43.7 L394.73 43.7 L395.05 43.7 L395.37 43.7 L395.69 43.7 L395.99 43.7 L396.3 43.7 L396.6 43.7 L396.92 43.7 L397.23 43.7 L397.55 43.7 L397.85 43.7 L398.15 43.7 L398.47 43.7 L398.79 43.7 L399.1 43.7 L399.4 43.7 L399.7 43.7 L400.02 43.7 L400.33 43.7 L400.64 43.7 L400.95 43.7 L401.25 43.7 L401.56 43.7 L401.87 43.7 L402.18 43.7 L402.48 43.7 L402.79 43.7 L403.1 43.7 L403.41 43.7 L403.71 43.7 L404.03 43.7 L404.34 43.7 L404.64 43.7 L404.94 43.7 L405.26 43.7 L405.57 43.7 L405.87 43.7 L406.17 43.7 L406.48 43.7 L406.79 43.7 L407.09 43.7 L407.4 43.7 L407.71 43.7 L408.01 43.7 L408.33 43.7 L408.64 43.7 L408.94 43.7 L409.24 43.7 L409.55 43.7 L409.86 43.7 L410.16 43.7 L410.47 43.7 L410.77 43.7 L411.07 43.7 L411.38 43.7 L411.68 43.7 L411.98 43.7 L412.29 43.7 L412.59 43.7 L412.9 43.7 L413.21 43.7 L413.51 43.7 L413.82 43.7 L414.12 43.7 L414.43 43.7 L414.74 43.7 L415.04 43.7 L415.35 43.7 L415.65 43.7 L415.96 43.7 L416.26 43.7 L416.56 43.7 L416.87 43.7 L417.17 43.7 L417.48 43.7 L417.78 43.7 L418.09 43.7 L418.39 43.7 L418.7 43.7 L419 43.7 L419.3 43.7 L419.61 43.7 L419.91 43.7 L420.22 43.7 L420.52 43.7 L420.82 43.7 L421.13 43.7 L421.43 43.7 L421.73 43.7 L422.03 43.7 L422.34 43.7 L422.64 43.7 L422.95 43.7 L423.25 43.7 L423.55 43.7 L423.86 43.7 L424.16 43.7 L424.46 43.7 L424.77 43.7 L425.07 43.7 L425.37 43.7 L425.68 43.7 L425.98 43.7 L426.28 43.7 L426.58 43.7 L426.88 43.7 L427.18 43.7 L427.49 43.7 L427.79 43.7 L428.09 43.7 L428.4 43.7 L428.7 43.7 L429 43.7 L429.3 43.7 L429.61 43.7 L429.91 43.7 L430.21 43.7 L430.52 43.7 L430.82 43.7 L431.12 43.7 L431.42 43.7 L431.72 43.7 L432.03 43.7 L432.33 43.7 L432.63 43.7 L432.94 43.7 L433.24 43.7 L433.54 43.7 L433.84 43.7 L434.14 43.7 L434.44 43.7 L434.74 43.7 L435.04 43.7 L435.34 43.7 L435.64 43.7 L435.95 43.7 L436.25 43.7 L436.55 43.7 L436.85 43.7 L437.15 43.7 L437.46 43.7 L437.76 43.7 L438.06 43.7 L438.36 43.7 L438.66 43.7 L438.96 43.7 L439.27 43.7 L439.57 43.7 L439.87 43.7 L440.17 43.7 L440.47 43.7 L440.77 43.7 L441.07 43.7 L441.38 43.7 L441.68 43.7 L441.98 43.7 L442.28 43.7 L442.58 43.7 L442.88 43.7 L443.18 43.7 L443.49 43.7 L443.79 43.7 L444.09 43.7 L444.39 43.7 L444.69 43.7 L445 43.7 L445.3 43.7 L445.6 43.7 L445.9 43.7 L446.2 43.7 L446.5 43.7 L446.8 43.7 L447.1 43.7 L447.4 43.7 L447.7 43.7 L448.01 43.7 L448.31 43.7 L448.61 43.7 L448.91 43.7 L449.21 43.7 L449.51 43.7 L449.81 43.7 L450.11 43.7 L450.41 43.7 L450.71 43.7 L451.01 43.7 L451.31 43.7 L451.61 43.7 L451.92 43.7 L452.22 43.7 L452.52 43.7 L452.82 43.7 L453.12 43.7 L453.42 43.7 L453.72 43.7 L454.02 43.7 L454.32 43.7 L454.62 43.7 L454.93 43.7 L455.23 43.7 L455.53 43.7 L455.83 43.7 L456.13 43.7 L456.43 43.7 L456.73 43.7 L457.03 43.7 L457.33 43.7 L457.63 43.7 L457.93 43.7 L458.23 43.7 L458.53 43.7 L458.83 43.7 L459.14 43.7 L459.44 43.7 L459.74 43.7 L460.04 43.7 L460.34 43.7 L460.64 43.7 L460.94 43.7 L461.24 43.7 L461.54 43.7 L461.84 43.7 L462.14 43.7 L462.44 43.7 L462.74 43.7 L463.04 43.7 L463.34 43.7 L463.64 43.7 L463.95 43.7 L464.25 43.7 L464.55 43.7 L464.85 43.7 L465.15 43.7 L465.45 43.7 L465.75 43.7 L466.05 43.7 L466.35 43.7 L466.65 43.7 L466.95 43.7 L467.25 43.7 L467.55 43.7 L467.85 43.7 L468.15 43.7 L468.45 43.7 L468.75 43.7 L469.05 43.7 L469.35 43.7 L469.65 43.7 L469.95 43.7 L470.25 43.7 L470.55 43.7 L470.86 43.7 L471.16 43.7 L471.46 43.7 L471.76 43.7 L472.06 43.7 L472.36 43.7 L472.66 43.7 L472.66 43.7M249 76.2H290.5" stroke-dasharray="0.7 1.05" stroke-width="0.5"/>
<path d="M140.59 283.9h4.6v4.6h-4.6zM242.41 286.7h4.6v4.6h-4.6zM257.74 281.7h4.6v4.6h-4.6zM266.71 271.3h4.6v4.6h-4.6zM273.07 260.3h4.6v4.6h-4.6zM278 248.7h4.6v4.6h-4.6zM282.03 236.7h4.6v4.6h-4.6zM285.44 222.7h4.6v4.6h-4.6zM288.39 207.3h4.6v4.6h-4.6zM291 191.7h4.6v4.6h-4.6zM293.33 178.7h4.6v4.6h-4.6zM295.44 166.2h4.6v4.6h-4.6zM297.36 153.7h4.6v4.6h-4.6zM299.13 139.7h4.6v4.6h-4.6zM300.77 128.7h4.6v4.6h-4.6zM302.29 120.7h4.6v4.6h-4.6zM303.72 112.7h4.6v4.6h-4.6zM305.06 106.2h4.6v4.6h-4.6zM306.33 100.2h4.6v4.6h-4.6zM307.52 93.2h4.6v4.6h-4.6zM308.66 87h4.6v4.6h-4.6zM309.73 82.2h4.6v4.6h-4.6zM310.76 77.7h4.6v4.6h-4.6zM311.75 73.2h4.6v4.6h-4.6zM312.69 69.2h4.6v4.6h-4.6zM313.59 65.2h4.6v4.6h-4.6zM314.46 61.7h4.6v4.6h-4.6zM315.29 59.2h4.6v4.6h-4.6zM316.1 56.4h4.6v4.6h-4.6zM316.87 54.29h4.6v4.6h-4.6zM317.62 52.4h4.6v4.6h-4.6zM318.35 50.52h4.6v4.6h-4.6zM319.05 48.77h4.6v4.6h-4.6zM319.73 47.34h4.6v4.6h-4.6zM320.39 46.14h4.6v4.6h-4.6zM321.03 45.16h4.6v4.6h-4.6zM321.65 44.34h4.6v4.6h-4.6zM322.26 43.67h4.6v4.6h-4.6zM322.85 43.2h4.6v4.6h-4.6zM323.42 42.86h4.6v4.6h-4.6zM323.98 42.58h4.6v4.6h-4.6zM324.53 42.36h4.6v4.6h-4.6zM325.06 42.17h4.6v4.6h-4.6zM325.58 42h4.6v4.6h-4.6zM326.09 41.87h4.6v4.6h-4.6zM326.59 41.77h4.6v4.6h-4.6zM470.36 41.4h4.6v4.6h-4.6zM267.2 73.9h4.6v4.6h-4.6z"/>
<path d="M328.2 47.21 L328.7 46.99 L329.2 46.8 L329.7 46.63 L330.2 46.47 L330.7 46.34 L331.2 46.25 L331.7 46.19 L332.2 46.14 L332.7 46.09 L333.2 46.05 L333.7 46.02 L334.2 46 L334.7 45.98 L335.2 45.96 L335.7 45.95 L336.2 45.93 L336.7 45.92 L337.2 45.91 L337.7 45.9 L338.2 45.9 L338.7 45.9 L339.2 45.9 L339.7 45.9 L340.2 45.9 L340.7 45.9 L341.2 45.9 L341.7 45.9 L342.2 45.9 L342.7 45.9 L343.2 45.9 L343.7 45.9 L344.2 45.9 L344.7 45.9 L345.2 45.9 L345.7 45.9 L346.2 45.9 L346.7 45.9 L347.2 45.9 L347.7 45.9 L348.2 45.9 L348.7 45.9 L349.2 45.9 L349.7 45.9 L350.2 45.9 L350.7 45.9 L351.2 45.9 L351.7 45.9 L352.2 45.9 L352.7 45.9 L353.2 45.9 L353.7 45.9 L354.2 45.9 L354.7 45.9 L355.2 45.9 L355.7 45.9 L356.2 45.9 L356.7 45.9 L357.2 45.9 L357.7 45.9 L358.2 45.9 L358.7 45.9 L359.2 45.9 L359.7 45.9 L360.2 45.9 L360.7 45.9 L361.2 45.9 L361.7 45.9 L362.2 45.9 L362.7 45.9 L363.2 45.9 L363.7 45.9 L364.2 45.9 L364.7 45.9 L365.2 45.9 L365.7 45.9 L366.2 45.9 L366.7 45.9 L367.2 45.9 L367.7 45.9 L368.2 45.9 L368.7 45.9 L369.2 45.9 L369.7 45.9 L370.2 45.9 L370.7 45.9 L371.2 45.9 L371.7 45.9 L372.2 45.9 L372.7 45.9 L373.2 45.9 L373.7 45.9 L374.2 45.9 L374.7 45.9 L375.2 45.9 L375.7 45.9 L376.2 45.9 L376.7 45.9 L377.2 45.9 L377.7 45.9 L378.2 45.9 L378.7 45.9 L379.2 45.9 L379.7 45.9 L380.2 45.9 L380.7 45.9 L381.2 45.9 L381.7 45.9 L382.2 45.9 L382.7 45.9 L383.2 45.9 L383.7 45.9 L384.2 45.9 L384.7 45.9 L385.2 45.9 L385.7 45.9 L386.2 45.9 L386.7 45.9 L387.2 45.9 L387.7 45.9 L388.2 45.9 L388.7 45.9 L389.2 45.9 L389.7 45.9 L390.2 45.9 L390.7 45.9 L391.2 45.9 L391.7 45.9 L392.2 45.9 L392.7 45.9 L393.2 45.9 L393.7 45.9 L394.2 45.9 L394.7 45.9 L395.2 45.9 L395.7 45.9 L396.2 45.9 L396.7 45.9 L397.2 45.9 L397.7 45.9 L398.2 45.9 L398.7 45.9 L399.2 45.9 L399.7 45.9 L400.2 45.9 L400.7 45.9 L401.2 45.9 L401.7 45.9 L402.2 45.9 L402.7 45.9 L403.2 45.9 L403.7 45.9 L404.2 45.9 L404.7 45.9 L405.2 45.9 L405.7 45.9 L406.2 45.9 L406.7 45.9 L407.2 45.9 L407.7 45.9 L408.2 45.9 L408.7 45.9 L409.2 45.9 L409.7 45.9 L410.2 45.9 L410.7 45.9 L411.2 45.9 L411.7 45.9 L412.2 45.9 L412.7 45.9 L413.2 45.9 L413.7 45.9 L414.2 45.9 L414.7 45.9 L415.2 45.9 L415.7 45.9 L416.2 45.9 L416.7 45.9 L417.2 45.9 L417.7 45.9 L418.2 45.9 L418.7 45.9 L419.2 45.9 L419.7 45.9 L420.2 45.9 L420.7 45.9 L421.2 45.9 L421.7 45.9 L422.2 45.9 L422.7 45.9 L423.2 45.9 L423.7 45.9 L424.2 45.9 L424.7 45.9 L425.2 45.9 L425.7 45.9 L426.2 45.9 L426.7 45.9 L427.2 45.9 L427.7 45.9 L428.2 45.9 L428.7 45.9 L429.2 45.9 L429.7 45.9 L430.2 45.9 L430.7 45.9 L431.2 45.9 L431.7 45.9 L432.2 45.9 L432.7 45.9 L433.2 45.9 L433.7 45.9 L434.2 45.9 L434.7 45.9 L435.2 45.9 L435.7 45.9 L436.2 45.9 L436.7 45.9 L437.2 45.9 L437.7 45.9 L438.2 45.9 L438.7 45.9 L439.2 45.9 L439.7 45.9 L440.2 45.9 L440.7 45.9 L441.2 45.9 L441.7 45.9 L442.2 45.9 L442.7 45.9 L443.2 45.9 L443.7 45.9 L444.2 45.9 L444.7 45.9 L445.2 45.9 L445.7 45.9 L446.2 45.9 L446.7 45.9 L447.2 45.9 L447.7 45.9 L448.2 45.9 L448.7 45.9 L449.2 45.9 L449.7 45.9 L450.2 45.9 L450.7 45.9 L451.2 45.9 L451.7 45.9 L452.2 45.9 L452.7 45.9 L453.2 45.9 L453.7 45.9 L454.2 45.9 L454.7 45.9 L455.2 45.9 L455.7 45.9 L456.2 45.9 L456.7 45.9 L457.2 45.9 L457.7 45.9 L458.2 45.9 L458.7 45.9 L459.2 45.9 L459.7 45.9 L460.2 45.9 L460.7 45.9 L461.2 45.9 L461.7 45.9 L462.2 45.9 L462.7 45.9 L463.2 45.9 L463.7 45.9 L464.2 45.9 L464.7 45.9 L465.2 45.9 L465.7 45.9 L466.2 45.9 L466.7 45.9 L467.2 45.9 L467.7 45.9 L468.2 45.9 L468.7 45.9 L469.2 45.9 L469.7 45.9 L470.2 45.9 L470.7 45.9 L471.2 45.9 L471.7 45.9 L472.2 45.9 L472.7 45.9 L473.2 45.9 L473.7 45.9 L474.2 45.9 L474.7 45.9 L474.86 45.9 L470.46 41.5 L470.3 41.5 L469.8 41.5 L469.3 41.5 L468.8 41.5 L468.3 41.5 L467.8 41.5 L467.3 41.5 L466.8 41.5 L466.3 41.5 L465.8 41.5 L465.3 41.5 L464.8 41.5 L464.3 41.5 L463.8 41.5 L463.3 41.5 L462.8 41.5 L462.3 41.5 L461.8 41.5 L461.3 41.5 L460.8 41.5 L460.3 41.5 L459.8 41.5 L459.3 41.5 L458.8 41.5 L458.3 41.5 L457.8 41.5 L457.3 41.5 L456.8 41.5 L456.3 41.5 L455.8 41.5 L455.3 41.5 L454.8 41.5 L454.3 41.5 L453.8 41.5 L453.3 41.5 L452.8 41.5 L452.3 41.5 L451.8 41.5 L451.3 41.5 L450.8 41.5 L450.3 41.5 L449.8 41.5 L449.3 41.5 L448.8 41.5 L448.3 41.5 L447.8 41.5 L447.3 41.5 L446.8 41.5 L446.3 41.5 L445.8 41.5 L445.3 41.5 L444.8 41.5 L444.3 41.5 L443.8 41.5 L443.3 41.5 L442.8 41.5 L442.3 41.5 L441.8 41.5 L441.3 41.5 L440.8 41.5 L440.3 41.5 L439.8 41.5 L439.3 41.5 L438.8 41.5 L438.3 41.5 L437.8 41.5 L437.3 41.5 L436.8 41.5 L436.3 41.5 L435.8 41.5 L435.3 41.5 L434.8 41.5 L434.3 41.5 L433.8 41.5 L433.3 41.5 L432.8 41.5 L432.3 41.5 L431.8 41.5 L431.3 41.5 L430.8 41.5 L430.3 41.5 L429.8 41.5 L429.3 41.5 L428.8 41.5 L428.3 41.5 L427.8 41.5 L427.3 41.5 L426.8 41.5 L426.3 41.5 L425.8 41.5 L425.3 41.5 L424.8 41.5 L424.3 41.5 L423.8 41.5 L423.3 41.5 L422.8 41.5 L422.3 41.5 L421.8 41.5 L421.3 41.5 L420.8 41.5 L420.3 41.5 L419.8 41.5 L419.3 41.5 L418.8 41.5 L418.3 41.5 L417.8 41.5 L417.3 41.5 L416.8 41.5 L416.3 41.5 L415.8 41.5 L415.3 41.5 L414.8 41.5 L414.3 41.5 L413.8 41.5 L413.3 41.5 L412.8 41.5 L412.3 41.5 L411.8 41.5 L411.3 41.5 L410.8 41.5 L410.3 41.5 L409.8 41.5 L409.3 41.5 L408.8 41.5 L408.3 41.5 L407.8 41.5 L407.3 41.5 L406.8 41.5 L406.3 41.5 L405.8 41.5 L405.3 41.5 L404.8 41.5 L404.3 41.5 L403.8 41.5 L403.3 41.5 L402.8 41.5 L402.3 41.5 L401.8 41.5 L401.3 41.5 L400.8 41.5 L400.3 41.5 L399.8 41.5 L399.3 41.5 L398.8 41.5 L398.3 41.5 L397.8 41.5 L397.3 41.5 L396.8 41.5 L396.3 41.5 L395.8 41.5 L395.3 41.5 L394.8 41.5 L394.3 41.5 L393.8 41.5 L393.3 41.5 L392.8 41.5 L392.3 41.5 L391.8 41.5 L391.3 41.5 L390.8 41.5 L390.3 41.5 L389.8 41.5 L389.3 41.5 L388.8 41.5 L388.3 41.5 L387.8 41.5 L387.3 41.5 L386.8 41.5 L386.3 41.5 L385.8 41.5 L385.3 41.5 L384.8 41.5 L384.3 41.5 L383.8 41.5 L383.3 41.5 L382.8 41.5 L382.3 41.5 L381.8 41.5 L381.3 41.5 L380.8 41.5 L380.3 41.5 L379.8 41.5 L379.3 41.5 L378.8 41.5 L378.3 41.5 L377.8 41.5 L377.3 41.5 L376.8 41.5 L376.3 41.5 L375.8 41.5 L375.3 41.5 L374.8 41.5 L374.3 41.5 L373.8 41.5 L373.3 41.5 L372.8 41.5 L372.3 41.5 L371.8 41.5 L371.3 41.5 L370.8 41.5 L370.3 41.5 L369.8 41.5 L369.3 41.5 L368.8 41.5 L368.3 41.5 L367.8 41.5 L367.3 41.5 L366.8 41.5 L366.3 41.5 L365.8 41.5 L365.3 41.5 L364.8 41.5 L364.3 41.5 L363.8 41.5 L363.3 41.5 L362.8 41.5 L362.3 41.5 L361.8 41.5 L361.3 41.5 L360.8 41.5 L360.3 41.5 L359.8 41.5 L359.3 41.5 L358.8 41.5 L358.3 41.5 L357.8 41.5 L357.3 41.5 L356.8 41.5 L356.3 41.5 L355.8 41.5 L355.3 41.5 L354.8 41.5 L354.3 41.5 L353.8 41.5 L353.3 41.5 L352.8 41.5 L352.3 41.5 L351.8 41.5 L351.3 41.5 L350.8 41.5 L350.3 41.5 L349.8 41.5 L349.3 41.5 L348.8 41.5 L348.3 41.5 L347.8 41.5 L347.3 41.5 L346.8 41.5 L346.3 41.5 L345.8 41.5 L345.3 41.5 L344.8 41.5 L344.3 41.5 L343.8 41.5 L343.3 41.5 L342.8 41.5 L342.3 41.5 L341.8 41.5 L341.3 41.5 L340.8 41.5 L340.3 41.5 L339.8 41.5 L339.3 41.5 L338.8 41.5 L338.3 41.5 L337.8 41.5 L337.3 41.5 L336.8 41.5 L336.3 41.5 L335.8 41.5 L335.3 41.5 L334.8 41.5 L334.3 41.5 L333.8 41.5 L333.3 41.5 L332.8 41.51 L332.3 41.52 L331.8 41.53 L331.3 41.55 L330.8 41.56 L330.3 41.58 L329.8 41.6 L329.3 41.62 L328.8 41.65 L328.3 41.69 L327.8 41.74 L327.3 41.79 L326.8 41.85 L326.3 41.94 L325.8 42.07 L325.3 42.23 L324.8 42.4 L324.3 42.59 L323.8 42.81Z" fill="#ff00ff" stroke-linejoin="round"/>
<path d="M328.2 45.01 L328.7 44.79 L329.2 44.6 L329.7 44.43 L330.2 44.27 L330.7 44.14 L331.2 44.05 L331.7 43.99 L332.2 43.94 L332.7 43.89 L333.2 43.85 L333.7 43.82 L334.2 43.8 L334.7 43.78 L335.2 43.76 L335.7 43.75 L336.2 43.73 L336.7 43.72 L337.2 43.71 L337.7 43.7 L338.2 43.7 L338.7 43.7 L339.2 43.7 L339.7 43.7 L340.2 43.7 L340.7 43.7 L341.2 43.7 L341.7 43.7 L342.2 43.7 L342.7 43.7 L343.2 43.7 L343.7 43.7 L344.2 43.7 L344.7 43.7 L345.2 43.7 L345.7 43.7 L346.2 43.7 L346.7 43.7 L347.2 43.7 L347.7 43.7 L348.2 43.7 L348.7 43.7 L349.2 43.7 L349.7 43.7 L350.2 43.7 L350.7 43.7 L351.2 43.7 L351.7 43.7 L352.2 43.7 L352.7 43.7 L353.2 43.7 L353.7 43.7 L354.2 43.7 L354.7 43.7 L355.2 43.7 L355.7 43.7 L356.2 43.7 L356.7 43.7 L357.2 43.7 L357.7 43.7 L358.2 43.7 L358.7 43.7 L359.2 43.7 L359.7 43.7 L360.2 43.7 L360.7 43.7 L361.2 43.7 L361.7 43.7 L362.2 43.7 L362.7 43.7 L363.2 43.7 L363.7 43.7 L364.2 43.7 L364.7 43.7 L365.2 43.7 L365.7 43.7 L366.2 43.7 L366.7 43.7 L367.2 43.7 L367.7 43.7 L368.2 43.7 L368.7 43.7 L369.2 43.7 L369.7 43.7 L370.2 43.7 L370.7 43.7 L371.2 43.7 L371.7 43.7 L372.2 43.7 L372.7 43.7 L373.2 43.7 L373.7 43.7 L374.2 43.7 L374.7 43.7 L375.2 43.7 L375.7 43.7 L376.2 43.7 L376.7 43.7 L377.2 43.7 L377.7 43.7 L378.2 43.7 L378.7 43.7 L379.2 43.7 L379.7 43.7 L380.2 43.7 L380.7 43.7 L381.2 43.7 L381.7 43.7 L382.2 43.7 L382.7 43.7 L383.2 43.7 L383.7 43.7 L384.2 43.7 L384.7 43.7 L385.2 43.7 L385.7 43.7 L386.2 43.7 L386.7 43.7 L387.2 43.7 L387.7 43.7 L388.2 43.7 L388.7 43.7 L389.2 43.7 L389.7 43.7 L390.2 43.7 L390.7 43.7 L391.2 43.7 L391.7 43.7 L392.2 43.7 L392.7 43.7 L393.2 43.7 L393.7 43.7 L394.2 43.7 L394.7 43.7 L395.2 43.7 L395.7 43.7 L396.2 43.7 L396.7 43.7 L397.2 43.7 L397.7 43.7 L398.2 43.7 L398.7 43.7 L399.2 43.7 L399.7 43.7 L400.2 43.7 L400.7 43.7 L401.2 43.7 L401.7 43.7 L402.2 43.7 L402.7 43.7 L403.2 43.7 L403.7 43.7 L404.2 43.7 L404.7 43.7 L405.2 43.7 L405.7 43.7 L406.2 43.7 L406.7 43.7 L407.2 43.7 L407.7 43.7 L408.2 43.7 L408.7 43.7 L409.2 43.7 L409.7 43.7 L410.2 43.7 L410.7 43.7 L411.2 43.7 L411.7 43.7 L412.2 43.7 L412.7 43.7 L413.2 43.7 L413.7 43.7 L414.2 43.7 L414.7 43.7 L415.2 43.7 L415.7 43.7 L416.2 43.7 L416.7 43.7 L417.2 43.7 L417.7 43.7 L418.2 43.7 L418.7 43.7 L419.2 43.7 L419.7 43.7 L420.2 43.7 L420.7 43.7 L421.2 43.7 L421.7 43.7 L422.2 43.7 L422.7 43.7 L423.2 43.7 L423.7 43.7 L424.2 43.7 L424.7 43.7 L425.2 43.7 L425.7 43.7 L426.2 43.7 L426.7 43.7 L427.2 43.7 L427.7 43.7 L428.2 43.7 L428.7 43.7 L429.2 43.7 L429.7 43.7 L430.2 43.7 L430.7 43.7 L431.2 43.7 L431.7 43.7 L432.2 43.7 L432.7 43.7 L433.2 43.7 L433.7 43.7 L434.2 43.7 L434.7 43.7 L435.2 43.7 L435.7 43.7 L436.2 43.7 L436.7 43.7 L437.2 43.7 L437.7 43.7 L438.2 43.7 L438.7 43.7 L439.2 43.7 L439.7 43.7 L440.2 43.7 L440.7 43.7 L441.2 43.7 L441.7 43.7 L442.2 43.7 L442.7 43.7 L443.2 43.7 L443.7 43.7 L444.2 43.7 L444.7 43.7 L445.2 43.7 L445.7 43.7 L446.2 43.7 L446.7 43.7 L447.2 43.7 L447.7 43.7 L448.2 43.7 L448.7 43.7 L449.2 43.7 L449.7 43.7 L450.2 43.7 L450.7 43.7 L451.2 43.7 L451.7 43.7 L452.2 43.7 L452.7 43.7 L453.2 43.7 L453.7 43.7 L454.2 43.7 L454.7 43.7 L455.2 43.7 L455.7 43.7 L456.2 43.7 L456.7 43.7 L457.2 43.7 L457.7 43.7 L458.2 43.7 L458.7 43.7 L459.2 43.7 L459.7 43.7 L460.2 43.7 L460.7 43.7 L461.2 43.7 L461.7 43.7 L462.2 43.7 L462.7 43.7 L463.2 43.7 L463.7 43.7 L464.2 43.7 L464.7 43.7 L465.2 43.7 L465.7 43.7 L466.2 43.7 L466.7 43.7 L467.2 43.7 L467.7 43.7 L468.2 43.7 L468.7 43.7 L469.2 43.7 L469.7 43.7 L470.2 43.7 L470.7 43.7 L471.2 43.7 L471.7 43.7 L472.2 43.7 L472.7 43.7 L473.2 43.7 L473.7 43.7 L474.2 43.7 L474.7 43.7 L474.86 43.7 L470.46 43.7 L470.3 43.7 L469.8 43.7 L469.3 43.7 L468.8 43.7 L468.3 43.7 L467.8 43.7 L467.3 43.7 L466.8 43.7 L466.3 43.7 L465.8 43.7 L465.3 43.7 L464.8 43.7 L464.3 43.7 L463.8 43.7 L463.3 43.7 L462.8 43.7 L462.3 43.7 L461.8 43.7 L461.3 43.7 L460.8 43.7 L460.3 43.7 L459.8 43.7 L459.3 43.7 L458.8 43.7 L458.3 43.7 L457.8 43.7 L457.3 43.7 L456.8 43.7 L456.3 43.7 L455.8 43.7 L455.3 43.7 L454.8 43.7 L454.3 43.7 L453.8 43.7 L453.3 43.7 L452.8 43.7 L452.3 43.7 L451.8 43.7 L451.3 43.7 L450.8 43.7 L450.3 43.7 L449.8 43.7 L449.3 43.7 L448.8 43.7 L448.3 43.7 L447.8 43.7 L447.3 43.7 L446.8 43.7 L446.3 43.7 L445.8 43.7 L445.3 43.7 L444.8 43.7 L444.3 43.7 L443.8 43.7 L443.3 43.7 L442.8 43.7 L442.3 43.7 L441.8 43.7 L441.3 43.7 L440.8 43.7 L440.3 43.7 L439.8 43.7 L439.3 43.7 L438.8 43.7 L438.3 43.7 L437.8 43.7 L437.3 43.7 L436.8 43.7 L436.3 43.7 L435.8 43.7 L435.3 43.7 L434.8 43.7 L434.3 43.7 L433.8 43.7 L433.3 43.7 L432.8 43.7 L432.3 43.7 L431.8 43.7 L431.3 43.7 L430.8 43.7 L430.3 43.7 L429.8 43.7 L429.3 43.7 L428.8 43.7 L428.3 43.7 L427.8 43.7 L427.3 43.7 L426.8 43.7 L426.3 43.7 L425.8 43.7 L425.3 43.7 L424.8 43.7 L424.3 43.7 L423.8 43.7 L423.3 43.7 L422.8 43.7 L422.3 43.7 L421.8 43.7 L421.3 43.7 L420.8 43.7 L420.3 43.7 L419.8 43.7 L419.3 43.7 L418.8 43.7 L418.3 43.7 L417.8 43.7 L417.3 43.7 L416.8 43.7 L416.3 43.7 L415.8 43.7 L415.3 43.7 L414.8 43.7 L414.3 43.7 L413.8 43.7 L413.3 43.7 L412.8 43.7 L412.3 43.7 L411.8 43.7 L411.3 43.7 L410.8 43.7 L410.3 43.7 L409.8 43.7 L409.3 43.7 L408.8 43.7 L408.3 43.7 L407.8 43.7 L407.3 43.7 L406.8 43.7 L406.3 43.7 L405.8 43.7 L405.3 43.7 L404.8 43.7 L404.3 43.7 L403.8 43.7 L403.3 43.7 L402.8 43.7 L402.3 43.7 L401.8 43.7 L401.3 43.7 L400.8 43.7 L400.3 43.7 L399.8 43.7 L399.3 43.7 L398.8 43.7 L398.3 43.7 L397.8 43.7 L397.3 43.7 L396.8 43.7 L396.3 43.7 L395.8 43.7 L395.3 43.7 L394.8 43.7 L394.3 43.7 L393.8 43.7 L393.3 43.7 L392.8 43.7 L392.3 43.7 L391.8 43.7 L391.3 43.7 L390.8 43.7 L390.3 43.7 L389.8 43.7 L389.3 43.7 L388.8 43.7 L388.3 43.7 L387.8 43.7 L387.3 43.7 L386.8 43.7 L386.3 43.7 L385.8 43.7 L385.3 43.7 L384.8 43.7 L384.3 43.7 L383.8 43.7 L383.3 43.7 L382.8 43.7 L382.3 43.7 L381.8 43.7 L381.3 43.7 L380.8 43.7 L380.3 43.7 L379.8 43.7 L379.3 43.7 L378.8 43.7 L378.3 43.7 L377.8 43.7 L377.3 43.7 L376.8 43.7 L376.3 43.7 L375.8 43.7 L375.3 43.7 L374.8 43.7 L374.3 43.7 L373.8 43.7 L373.3 43.7 L372.8 43.7 L372.3 43.7 L371.8 43.7 L371.3 43.7 L370.8 43.7 L370.3 43.7 L369.8 43.7 L369.3 43.7 L368.8 43.7 L368.3 43.7 L367.8 43.7 L367.3 43.7 L366.8 43.7 L366.3 43.7 L365.8 43.7 L365.3 43.7 L364.8 43.7 L364.3 43.7 L363.8 43.7 L363.3 43.7 L362.8 43.7 L362.3 43.7 L361.8 43.7 L361.3 43.7 L360.8 43.7 L360.3 43.7 L359.8 43.7 L359.3 43.7 L358.8 43.7 L358.3 43.7 L357.8 43.7 L357.3 43.7 L356.8 43.7 L356.3 43.7 L355.8 43.7 L355.3 43.7 L354.8 43.7 L354.3 43.7 L353.8 43.7 L353.3 43.7 L352.8 43.7 L352.3 43.7 L351.8 43.7 L351.3 43.7 L350.8 43.7 L350.3 43.7 L349.8 43.7 L349.3 43.7 L348.8 43.7 L348.3 43.7 L347.8 43.7 L347.3 43.7 L346.8 43.7 L346.3 43.7 L345.8 43.7 L345.3 43.7 L344.8 43.7 L344.3 43.7 L343.8 43.7 L343.3 43.7 L342.8 43.7 L342.3 43.7 L341.8 43.7 L341.3 43.7 L340.8 43.7 L340.3 43.7 L339.8 43.7 L339.3 43.7 L338.8 43.7 L338.3 43.7 L337.8 43.7 L337.3 43.7 L336.8 43.7 L336.3 43.7 L335.8 43.7 L335.3 43.7 L334.8 43.7 L334.3 43.7 L333.8 43.7 L333.3 43.7 L332.8 43.71 L332.3 43.72 L331.8 43.73 L331.3 43.75 L330.8 43.76 L330.3 43.78 L329.8 43.8 L329.3 43.82 L328.8 43.85 L328.3 43.89 L327.8 43.94 L327.3 43.99 L326.8 44.05 L326.3 44.14 L325.8 44.27 L325.3 44.43 L324.8 44.6 L324.3 44.79 L323.8 45.01Z" fill="#ff00ff" stroke-linejoin="round"/>
<path d="M326 47.21 L326.5 46.99 L327 46.8 L327.5 46.63 L328 46.47 L328.5 46.34 L329 46.25 L329.5 46.19 L330 46.14 L330.5 46.09 L331 46.05 L331.5 46.02 L332 46 L332.5 45.98 L333 45.96 L333.5 45.95 L334 45.93 L334.5 45.92 L335 45.91 L335.5 45.9 L336 45.9 L336.5 45.9 L337 45.9 L337.5 45.9 L338 45.9 L338.5 45.9 L339 45.9 L339.5 45.9 L340 45.9 L340.5 45.9 L341 45.9 L341.5 45.9 L342 45.9 L342.5 45.9 L343 45.9 L343.5 45.9 L344 45.9 L344.5 45.9 L345 45.9 L345.5 45.9 L346 45.9 L346.5 45.9 L347 45.9 L347.5 45.9 L348 45.9 L348.5 45.9 L349 45.9 L349.5 45.9 L350 45.9 L350.5 45.9 L351 45.9 L351.5 45.9 L352 45.9 L352.5 45.9 L353 45.9 L353.5 45.9 L354 45.9 L354.5 45.9 L355 45.9 L355.5 45.9 L356 45.9 L356.5 45.9 L357 45.9 L357.5 45.9 L358 45.9 L358.5 45.9 L359 45.9 L359.5 45.9 L360 45.9 L360.5 45.9 L361 45.9 L361.5 45.9 L362 45.9 L362.5 45.9 L363 45.9 L363.5 45.9 L364 45.9 L364.5 45.9 L365 45.9 L365.5 45.9 L366 45.9 L366.5 45.9 L367 45.9 L367.5 45.9 L368 45.9 L368.5 45.9 L369 45.9 L369.5 45.9 L370 45.9 L370.5 45.9 L371 45.9 L371.5 45.9 L372 45.9 L372.5 45.9 L373 45.9 L373.5 45.9 L374 45.9 L374.5 45.9 L375 45.9 L375.5 45.9 L376 45.9 L376.5 45.9 L377 45.9 L377.5 45.9 L378 45.9 L378.5 45.9 L379 45.9 L379.5 45.9 L380 45.9 L380.5 45.9 L381 45.9 L381.5 45.9 L382 45.9 L382.5 45.9 L383 45.9 L383.5 45.9 L384 45.9 L384.5 45.9 L385 45.9 L385.5 45.9 L386 45.9 L386.5 45.9 L387 45.9 L387.5 45.9 L388 45.9 L388.5 45.9 L389 45.9 L389.5 45.9 L390 45.9 L390.5 45.9 L391 45.9 L391.5 45.9 L392 45.9 L392.5 45.9 L393 45.9 L393.5 45.9 L394 45.9 L394.5 45.9 L395 45.9 L395.5 45.9 L396 45.9 L396.5 45.9 L397 45.9 L397.5 45.9 L398 45.9 L398.5 45.9 L399 45.9 L399.5 45.9 L400 45.9 L400.5 45.9 L401 45.9 L401.5 45.9 L402 45.9 L402.5 45.9 L403 45.9 L403.5 45.9 L404 45.9 L404.5 45.9 L405 45.9 L405.5 45.9 L406 45.9 L406.5 45.9 L407 45.9 L407.5 45.9 L408 45.9 L408.5 45.9 L409 45.9 L409.5 45.9 L410 45.9 L410.5 45.9 L411 45.9 L411.5 45.9 L412 45.9 L412.5 45.9 L413 45.9 L413.5 45.9 L414 45.9 L414.5 45.9 L415 45.9 L415.5 45.9 L416 45.9 L416.5 45.9 L417 45.9 L417.5 45.9 L418 45.9 L418.5 45.9 L419 45.9 L419.5 45.9 L420 45.9 L420.5 45.9 L421 45.9 L421.5 45.9 L422 45.9 L422.5 45.9 L423 45.9 L423.5 45.9 L424 45.9 L424.5 45.9 L425 45.9 L425.5 45.9 L426 45.9 L426.5 45.9 L427 45.9 L427.5 45.9 L428 45.9 L428.5 45.9 L429 45.9 L429.5 45.9 L430 45.9 L430.5 45.9 L431 45.9 L431.5 45.9 L432 45.9 L432.5 45.9 L433 45.9 L433.5 45.9 L434 45.9 L434.5 45.9 L435 45.9 L435.5 45.9 L436 45.9 L436.5 45.9 L437 45.9 L437.5 45.9 L438 45.9 L438.5 45.9 L439 45.9 L439.5 45.9 L440 45.9 L440.5 45.9 L441 45.9 L441.5 45.9 L442 45.9 L442.5 45.9 L443 45.9 L443.5 45.9 L444 45.9 L444.5 45.9 L445 45.9 L445.5 45.9 L446 45.9 L446.5 45.9 L447 45.9 L447.5 45.9 L448 45.9 L448.5 45.9 L449 45.9 L449.5 45.9 L450 45.9 L450.5 45.9 L451 45.9 L451.5 45.9 L452 45.9 L452.5 45.9 L453 45.9 L453.5 45.9 L454 45.9 L454.5 45.9 L455 45.9 L455.5 45.9 L456 45.9 L456.5 45.9 L457 45.9 L457.5 45.9 L458 45.9 L458.5 45.9 L459 45.9 L459.5 45.9 L460 45.9 L460.5 45.9 L461 45.9 L461.5 45.9 L462 45.9 L462.5 45.9 L463 45.9 L463.5 45.9 L464 45.9 L464.5 45.9 L465 45.9 L465.5 45.9 L466 45.9 L466.5 45.9 L467 45.9 L467.5 45.9 L468 45.9 L468.5 45.9 L469 45.9 L469.5 45.9 L470 45.9 L470.5 45.9 L471 45.9 L471.5 45.9 L472 45.9 L472.5 45.9 L472.66 45.9 L472.66 41.5 L472.5 41.5 L472 41.5 L471.5 41.5 L471 41.5 L470.5 41.5 L470 41.5 L469.5 41.5 L469 41.5 L468.5 41.5 L468 41.5 L467.5 41.5 L467 41.5 L466.5 41.5 L466 41.5 L465.5 41.5 L465 41.5 L464.5 41.5 L464 41.5 L463.5 41.5 L463 41.5 L462.5 41.5 L462 41.5 L461.5 41.5 L461 41.5 L460.5 41.5 L460 41.5 L459.5 41.5 L459 41.5 L458.5 41.5 L458 41.5 L457.5 41.5 L457 41.5 L456.5 41.5 L456 41.5 L455.5 41.5 L455 41.5 L454.5 41.5 L454 41.5 L453.5 41.5 L453 41.5 L452.5 41.5 L452 41.5 L451.5 41.5 L451 41.5 L450.5 41.5 L450 41.5 L449.5 41.5 L449 41.5 L448.5 41.5 L448 41.5 L447.5 41.5 L447 41.5 L446.5 41.5 L446 41.5 L445.5 41.5 L445 41.5 L444.5 41.5 L444 41.5 L443.5 41.5 L443 41.5 L442.5 41.5 L442 41.5 L441.5 41.5 L441 41.5 L440.5 41.5 L440 41.5 L439.5 41.5 L439 41.5 L438.5 41.5 L438 41.5 L437.5 41.5 L437 41.5 L436.5 41.5 L436 41.5 L435.5 41.5 L435 41.5 L434.5 41.5 L434 41.5 L433.5 41.5 L433 41.5 L432.5 41.5 L432 41.5 L431.5 41.5 L431 41.5 L430.5 41.5 L430 41.5 L429.5 41.5 L429 41.5 L428.5 41.5 L428 41.5 L427.5 41.5 L427 41.5 L426.5 41.5 L426 41.5 L425.5 41.5 L425 41.5 L424.5 41.5 L424 41.5 L423.5 41.5 L423 41.5 L422.5 41.5 L422 41.5 L421.5 41.5 L421 41.5 L420.5 41.5 L420 41.5 L419.5 41.5 L419 41.5 L418.5 41.5 L418 41.5 L417.5 41.5 L417 41.5 L416.5 41.5 L416 41.5 L415.5 41.5 L415 41.5 L414.5 41.5 L414 41.5 L413.5 41.5 L413 41.5 L412.5 41.5 L412 41.5 L411.5 41.5 L411 41.5 L410.5 41.5 L410 41.5 L409.5 41.5 L409 41.5 L408.5 41.5 L408 41.5 L407.5 41.5 L407 41.5 L406.5 41.5 L406 41.5 L405.5 41.5 L405 41.5 L404.5 41.5 L404 41.5 L403.5 41.5 L403 41.5 L402.5 41.5 L402 41.5 L401.5 41.5 L401 41.5 L400.5 41.5 L400 41.5 L399.5 41.5 L399 41.5 L398.5 41.5 L398 41.5 L397.5 41.5 L397 41.5 L396.5 41.5 L396 41.5 L395.5 41.5 L395 41.5 L394.5 41.5 L394 41.5 L393.5 41.5 L393 41.5 L392.5 41.5 L392 41.5 L391.5 41.5 L391 41.5 L390.5 41.5 L390 41.5 L389.5 41.5 L389 41.5 L388.5 41.5 L388 41.5 L387.5 41.5 L387 41.5 L386.5 41.5 L386 41.5 L385.5 41.5 L385 41.5 L384.5 41.5 L384 41.5 L383.5 41.5 L383 41.5 L382.5 41.5 L382 41.5 L381.5 41.5 L381 41.5 L380.5 41.5 L380 41.5 L379.5 41.5 L379 41.5 L378.5 41.5 L378 41.5 L377.5 41.5 L377 41.5 L376.5 41.5 L376 41.5 L375.5 41.5 L375 41.5 L374.5 41.5 L374 41.5 L373.5 41.5 L373 41.5 L372.5 41.5 L372 41.5 L371.5 41.5 L371 41.5 L370.5 41.5 L370 41.5 L369.5 41.5 L369 41.5 L368.5 41.5 L368 41.5 L367.5 41.5 L367 41.5 L366.5 41.5 L366 41.5 L365.5 41.5 L365 41.5 L364.5 41.5 L364 41.5 L363.5 41.5 L363 41.5 L362.5 41.5 L362 41.5 L361.5 41.5 L361 41.5 L360.5 41.5 L360 41.5 L359.5 41.5 L359 41.5 L358.5 41.5 L358 41.5 L357.5 41.5 L357 41.5 L356.5 41.5 L356 41.5 L355.5 41.5 L355 41.5 L354.5 41.5 L354 41.5 L353.5 41.5 L353 41.5 L352.5 41.5 L352 41.5 L351.5 41.5 L351 41.5 L350.5 41.5 L350 41.5 L349.5 41.5 L349 41.5 L348.5 41.5 L348 41.5 L347.5 41.5 L347 41.5 L346.5 41.5 L346 41.5 L345.5 41.5 L345 41.5 L344.5 41.5 L344 41.5 L343.5 41.5 L343 41.5 L342.5 41.5 L342 41.5 L341.5 41.5 L341 41.5 L340.5 41.5 L340 41.5 L339.5 41.5 L339 41.5 L338.5 41.5 L338 41.5 L337.5 41.5 L337 41.5 L336.5 41.5 L336 41.5 L335.5 41.5 L335 41.51 L334.5 41.52 L334 41.53 L333.5 41.55 L333 41.56 L332.5 41.58 L332 41.6 L331.5 41.62 L331 41.65 L330.5 41.69 L330 41.74 L329.5 41.79 L329 41.85 L328.5 41.94 L328 42.07 L327.5 42.23 L327 42.4 L326.5 42.59 L326 42.81Z" fill="#ff00ff" stroke-linejoin="round"/>
</g>

<rect x="120.6" y="18.5" width="356.4" height="282.5" fill="none" stroke="#000" stroke-width="0.9"/>
<g font-family="&quot;Liberation Serif&quot;, serif" font-size="15.3" fill="#000">
<text x="111.5" y="305.75" text-anchor="end">1e-12</text>
<text x="111.5" y="277.5" text-anchor="end">1e-11</text>
<text x="111.5" y="249.25" text-anchor="end">1e-10</text>
<text x="111.5" y="221" text-anchor="end">1e-09</text>
<text x="111.5" y="192.75" text-anchor="end">1e-08</text>
<text x="111.5" y="164.5" text-anchor="end">1e-07</text>
<text x="111.5" y="136.25" text-anchor="end">1e-06</text>
<text x="111.5" y="108" text-anchor="end">1e-05</text>
<text x="111.5" y="79.75" text-anchor="end">0.0001</text>
<text x="111.5" y="51.5" text-anchor="end">0.001</text>
<text x="111.5" y="23.25" text-anchor="end">0.01</text>
<text x="122.4" y="321.5" text-anchor="middle">1e-05</text>
<text x="173.31" y="321.5" text-anchor="middle">0.0001</text>
<text x="224.23" y="321.5" text-anchor="middle">0.001</text>
<text x="275.14" y="321.5" text-anchor="middle">0.01</text>
<text x="326.06" y="321.5" text-anchor="middle">0.1</text>
<text x="376.97" y="321.5" text-anchor="middle">1</text>
<text x="428.49" y="321.5" text-anchor="middle">10</text>
<text x="479.4" y="321.5" text-anchor="middle">100</text>
<text x="240" y="35.4" text-anchor="end">Ocean temp</text>
<text x="240" y="50.7" text-anchor="end">Ocean stream</text>
<text x="240" y="65.9" text-anchor="end">Atmos stream</text>
<text x="240" y="81.2" text-anchor="end">Atmos temp</text>
<text x="179.8" y="221.3" text-anchor="middle">(a)</text>
<text x="298.6" y="344.2" text-anchor="middle">t (years)</text>
<g transform="translate(35.7,178.5) rotate(-90)"><text x="0" y="0">&lt;E<tspan font-size="12.24" dy="-7.65">2</tspan><tspan font-size="12.24" dx="0.8" dy="12.24">t</tspan><tspan dx="0.4" dy="-4.59">&gt;</tspan></text></g>
</g>
</svg>
</body></html>
